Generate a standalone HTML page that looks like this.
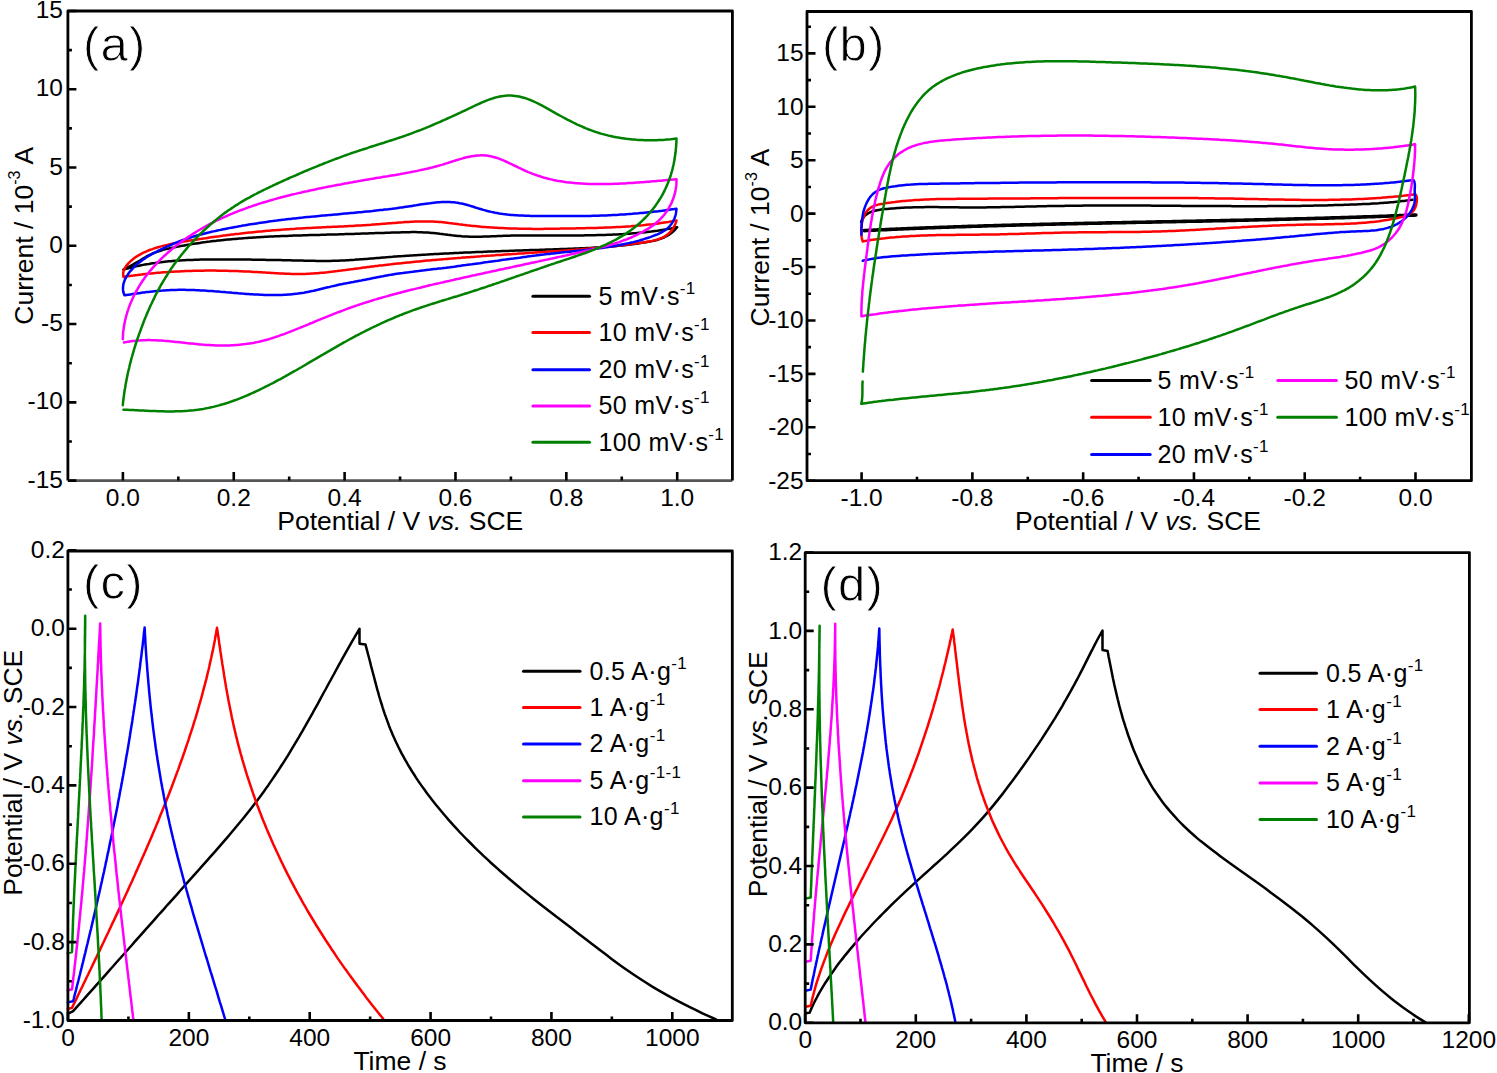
<!DOCTYPE html><html><head><meta charset="utf-8"><style>html,body{margin:0;padding:0;background:#fff;overflow:hidden}svg{display:block}text{font-family:"Liberation Sans",sans-serif}</style></head><body>
<svg width="1497" height="1073" viewBox="0 0 1497 1073" font-family='"Liberation Sans", sans-serif' font-size="24.5" fill="#000">
<path d="M123.4 269.6L125.1 268.6L126.8 267.7L128.5 266.9L130.2 266L131.9 265.1L133.7 264.2L135.4 263.2L137.2 262.1L139 261.1L140.8 260L142.6 258.9L144.4 257.8L146.2 256.7L148.1 255.7L149.9 254.8L151.8 253.9L153.7 253.1L155.5 252.4L157.4 251.7L159.3 251.1L161.2 250.5L163.1 249.9L165 249.4L166.9 248.9L168.9 248.5L170.8 248L172.7 247.6L174.6 247.2L176.6 246.8L178.5 246.5L180.4 246.1L182.4 245.7L184.3 245.4L186.2 245.1L188.2 244.7L190.1 244.4L192.1 244.1L194 243.8L196 243.5L197.9 243.2L199.9 242.9L201.8 242.6L203.8 242.3L205.8 242.1L207.7 241.8L209.7 241.6L211.7 241.3L213.6 241.1L215.6 240.9L217.6 240.6L219.5 240.4L221.5 240.2L223.5 240L225.5 239.8L227.4 239.6L229.4 239.4L231.4 239.2L233.4 239L235.4 238.9L237.3 238.7L239.3 238.5L241.3 238.4L243.3 238.2L245.3 238.1L247.3 237.9L249.3 237.8L251.3 237.7L253.3 237.5L255.2 237.4L257.2 237.3L259.2 237.2L261.2 237L263.2 236.9L265.2 236.8L267.2 236.7L269.2 236.6L271.2 236.5L273.2 236.4L275.2 236.3L277.2 236.3L279.3 236.2L281.3 236.1L283.3 236L285.3 235.9L287.3 235.9L289.3 235.8L291.3 235.7L293.3 235.6L295.3 235.6L297.3 235.5L299.3 235.4L301.3 235.4L303.4 235.3L305.4 235.3L307.4 235.2L309.4 235.1L311.4 235.1L313.4 235L315.4 235L317.4 234.9L319.4 234.9L321.5 234.8L323.5 234.8L325.5 234.7L327.5 234.6L329.5 234.6L331.5 234.5L333.5 234.5L335.5 234.4L337.6 234.4L339.6 234.3L341.6 234.3L343.6 234.2L345.6 234.1L347.6 234.1L349.6 234L351.6 234L353.6 233.9L355.7 233.8L357.7 233.8L359.7 233.7L361.7 233.6L363.7 233.6L365.7 233.5L367.7 233.4L369.7 233.3L371.7 233.3L373.7 233.2L375.7 233.1L377.7 233.1L379.7 233L381.7 232.9L383.8 232.9L385.8 232.8L387.8 232.7L389.8 232.7L391.8 232.6L393.8 232.5L395.8 232.5L397.8 232.4L399.8 232.4L401.8 232.3L403.8 232.3L405.8 232.2L407.8 232.2L409.8 232.2L411.8 232.1L413.8 232.1L415.8 232.1L417.8 232.2L419.8 232.2L421.8 232.3L423.8 232.4L425.8 232.5L427.8 232.6L429.8 232.7L431.8 232.9L433.8 233.1L435.8 233.3L437.8 233.5L439.8 233.8L441.8 234L443.8 234.3L445.8 234.5L447.8 234.8L449.8 235L451.8 235.3L453.8 235.5L455.8 235.7L457.8 235.9L459.8 236.1L461.8 236.3L463.8 236.4L465.8 236.5L467.7 236.6L469.7 236.7L471.7 236.7L473.7 236.8L475.7 236.8L477.7 236.7L479.7 236.7L481.7 236.7L483.7 236.6L485.7 236.6L487.7 236.5L489.7 236.4L491.7 236.3L493.7 236.2L495.7 236.2L497.7 236.1L499.7 236L501.7 235.9L503.7 235.8L505.6 235.8L507.6 235.7L509.6 235.7L511.6 235.6L513.6 235.6L515.6 235.5L517.6 235.5L519.6 235.5L521.6 235.5L523.6 235.4L525.6 235.4L527.6 235.4L529.6 235.4L531.6 235.4L533.6 235.4L535.5 235.4L537.5 235.4L539.5 235.4L541.5 235.4L543.5 235.4L545.5 235.4L547.5 235.4L549.5 235.4L551.5 235.4L553.5 235.4L555.5 235.4L557.5 235.4L559.5 235.4L561.5 235.4L563.4 235.4L565.4 235.4L567.4 235.4L569.4 235.4L571.4 235.4L573.4 235.4L575.4 235.4L577.4 235.4L579.4 235.4L581.4 235.4L583.4 235.4L585.4 235.3L587.4 235.3L589.4 235.3L591.4 235.3L593.3 235.2L595.3 235.2L597.3 235.1L599.3 235.1L601.3 235L603.3 235L605.3 234.9L607.3 234.8L609.3 234.8L611.3 234.7L613.3 234.6L615.3 234.5L617.3 234.4L619.3 234.3L621.3 234.2L623.3 234.1L625.3 233.9L627.3 233.8L629.2 233.7L631.2 233.5L633.2 233.3L635.2 233.2L637.2 233L639.2 232.8L641.2 232.6L643.2 232.4L645.2 232.2L647.2 232L649.2 231.7L651.2 231.5L653.2 231.2L655.2 230.9L657.2 230.7L659.2 230.4L661.2 230.1L663.2 229.8L665.2 229.4L667.2 229.1L669.2 228.7L671.2 228.4L673.2 228L675.2 227.6L677.2 227.2L675.8 228.8L674.4 230.3L673 231.7L671.4 233L669.9 234.1L668.2 235.2L666.6 236.1L664.8 237L663.1 237.8L661.3 238.5L659.5 239.1L657.6 239.7L655.8 240.2L653.9 240.7L652 241.1L650 241.5L648.1 241.8L646.2 242.2L644.2 242.5L642.2 242.8L640.3 243.1L638.3 243.4L636.4 243.7L634.4 244L632.4 244.2L630.5 244.5L628.5 244.7L626.5 244.9L624.5 245.2L622.5 245.4L620.5 245.6L618.6 245.8L616.6 246L614.6 246.2L612.6 246.3L610.6 246.5L608.6 246.7L606.6 246.8L604.6 247L602.6 247.1L600.6 247.3L598.6 247.4L596.5 247.5L594.5 247.6L592.5 247.7L590.5 247.9L588.5 248L586.5 248.1L584.5 248.2L582.5 248.3L580.4 248.3L578.4 248.4L576.4 248.5L574.4 248.6L572.4 248.7L570.4 248.8L568.3 248.8L566.3 248.9L564.3 249L562.3 249L560.3 249.1L558.3 249.2L556.3 249.3L554.2 249.3L552.2 249.4L550.2 249.5L548.2 249.5L546.2 249.6L544.2 249.7L542.2 249.7L540.2 249.8L538.2 249.9L536.2 249.9L534.1 250L532.1 250.1L530.1 250.1L528.1 250.2L526.1 250.3L524.1 250.3L522.1 250.4L520.1 250.5L518.1 250.5L516.1 250.6L514.1 250.7L512.1 250.8L510.1 250.8L508.1 250.9L506.1 251L504.1 251L502.1 251.1L500.1 251.2L498.1 251.3L496.1 251.3L494.1 251.4L492.1 251.5L490.1 251.6L488.1 251.6L486.2 251.7L484.2 251.8L482.2 251.9L480.2 252L478.2 252L476.2 252.1L474.2 252.2L472.2 252.3L470.2 252.4L468.2 252.5L466.2 252.5L464.2 252.6L462.2 252.7L460.2 252.8L458.3 252.9L456.3 253L454.3 253.1L452.3 253.2L450.3 253.3L448.3 253.4L446.3 253.5L444.3 253.6L442.3 253.7L440.3 253.8L438.3 253.9L436.4 254L434.4 254.1L432.4 254.2L430.4 254.3L428.4 254.4L426.4 254.6L424.4 254.7L422.4 254.8L420.4 254.9L418.4 255L416.4 255.2L414.5 255.3L412.5 255.4L410.5 255.5L408.5 255.7L406.5 255.8L404.5 255.9L402.5 256.1L400.5 256.2L398.5 256.3L396.5 256.5L394.5 256.6L392.5 256.8L390.5 256.9L388.5 257.1L386.5 257.2L384.5 257.4L382.6 257.5L380.6 257.7L378.6 257.9L376.6 258L374.6 258.2L372.6 258.4L370.6 258.5L368.6 258.7L366.6 258.9L364.6 259L362.6 259.2L360.6 259.3L358.6 259.5L356.6 259.6L354.6 259.8L352.6 259.9L350.6 260L348.6 260.2L346.6 260.3L344.6 260.4L342.6 260.5L340.6 260.6L338.6 260.7L336.6 260.7L334.6 260.8L332.6 260.8L330.6 260.9L328.5 260.9L326.5 260.9L324.5 260.9L322.5 260.9L320.5 260.9L318.5 260.9L316.5 260.9L314.5 260.8L312.5 260.8L310.5 260.8L308.5 260.7L306.5 260.7L304.5 260.7L302.5 260.6L300.5 260.6L298.5 260.5L296.5 260.5L294.5 260.4L292.5 260.4L290.5 260.3L288.5 260.3L286.5 260.2L284.5 260.2L282.5 260.2L280.5 260.1L278.5 260.1L276.5 260L274.4 260L272.4 260L270.4 259.9L268.4 259.9L266.4 259.9L264.4 259.8L262.4 259.8L260.4 259.8L258.4 259.7L256.4 259.7L254.4 259.7L252.4 259.7L250.4 259.6L248.4 259.6L246.4 259.6L244.4 259.6L242.4 259.6L240.4 259.5L238.4 259.5L236.4 259.5L234.4 259.5L232.4 259.5L230.4 259.5L228.4 259.5L226.4 259.5L224.4 259.5L222.5 259.5L220.5 259.5L218.5 259.5L216.5 259.5L214.5 259.5L212.5 259.5L210.5 259.5L208.5 259.5L206.5 259.5L204.5 259.6L202.5 259.6L200.5 259.6L198.5 259.7L196.5 259.7L194.6 259.8L192.6 259.9L190.6 259.9L188.6 260L186.6 260.1L184.6 260.2L182.6 260.3L180.7 260.4L178.7 260.5L176.7 260.7L174.7 260.8L172.7 261L170.7 261.2L168.8 261.3L166.8 261.5L164.8 261.7L162.8 261.9L160.8 262.2L158.9 262.4L156.9 262.7L154.9 263L152.9 263.2L151 263.5L149 263.9L147 264.2L145 264.5L143.1 264.9L141.1 265.3L139.1 265.7L137.2 266.1L135.2 266.6L133.2 267L131.3 267.5L129.3 268L127.3 268.5L125.4 269L123.4 269.6" fill="none" stroke="#000000" stroke-width="2.5" stroke-linejoin="round" stroke-linecap="round"/>
<path d="M123.4 276.9L123.2 274.9L123.2 273L123.6 271.1L124.2 269.4L125.1 267.7L126.1 266.1L127.3 264.6L128.6 263.1L129.9 261.8L131.4 260.4L132.9 259.2L134.4 258L136 256.9L137.7 255.8L139.4 254.8L141.2 253.8L142.9 252.9L144.8 252.1L146.6 251.3L148.5 250.5L150.4 249.7L152.3 249.1L154.3 248.4L156.2 247.8L158.2 247.2L160.2 246.6L162.1 246.1L164.1 245.6L166.1 245.1L168 244.7L170 244.2L172 243.8L173.9 243.4L175.9 243L177.9 242.6L179.8 242.3L181.8 241.9L183.8 241.6L185.8 241.3L187.7 240.9L189.7 240.6L191.7 240.3L193.7 240L195.6 239.7L197.6 239.4L199.6 239.1L201.6 238.8L203.6 238.4L205.5 238.2L207.5 237.9L209.5 237.6L211.5 237.3L213.5 237L215.4 236.7L217.4 236.4L219.4 236.2L221.4 235.9L223.4 235.6L225.4 235.4L227.4 235.1L229.3 234.9L231.3 234.6L233.3 234.4L235.3 234.1L237.3 233.9L239.3 233.7L241.3 233.4L243.3 233.2L245.2 233L247.2 232.8L249.2 232.6L251.2 232.4L253.2 232.2L255.2 232L257.2 231.8L259.2 231.6L261.2 231.4L263.2 231.2L265.2 231L267.1 230.8L269.1 230.7L271.1 230.5L273.1 230.3L275.1 230.2L277.1 230L279.1 229.9L281.1 229.7L283.1 229.6L285.1 229.4L287.1 229.3L289.1 229.2L291.1 229L293.1 228.9L295.1 228.8L297.1 228.6L299.1 228.5L301.1 228.4L303.1 228.3L305 228.2L307 228.1L309 228L311 227.9L313 227.8L315 227.7L317 227.6L319 227.5L321 227.4L323 227.3L325 227.2L327 227.1L329 227L331 226.9L333 226.8L335 226.7L337 226.7L339 226.6L341 226.5L343 226.4L345 226.3L347 226.2L349 226.1L351 226L353 225.9L355 225.7L357 225.6L359 225.5L361 225.4L363 225.3L365 225.2L367 225L369 224.9L371 224.8L372.9 224.6L374.9 224.5L376.9 224.3L378.9 224.2L380.9 224L382.9 223.8L384.9 223.7L386.9 223.5L388.9 223.3L390.9 223.2L392.9 223L394.9 222.9L396.9 222.7L398.9 222.5L400.9 222.4L402.9 222.3L404.9 222.1L406.9 222L408.9 221.9L410.9 221.8L412.9 221.7L414.9 221.6L416.9 221.5L418.9 221.5L420.9 221.4L422.9 221.4L424.9 221.4L426.9 221.4L428.9 221.5L430.9 221.5L432.9 221.6L434.9 221.7L436.9 221.8L438.9 222L440.9 222.1L442.9 222.3L444.9 222.5L446.9 222.7L448.9 223L450.9 223.2L452.9 223.5L454.9 223.7L456.9 224L458.9 224.3L460.9 224.5L462.9 224.8L464.9 225L466.9 225.3L468.9 225.5L470.9 225.7L472.9 225.9L474.9 226.1L476.9 226.3L478.9 226.5L480.9 226.7L482.9 226.9L484.9 227L486.9 227.2L488.9 227.3L490.9 227.5L492.9 227.6L494.9 227.7L496.9 227.8L498.9 227.9L500.9 228.1L502.9 228.1L504.9 228.2L506.9 228.3L508.9 228.4L510.9 228.5L512.9 228.5L514.9 228.6L516.9 228.6L518.9 228.7L520.9 228.7L522.9 228.8L524.9 228.8L526.9 228.8L528.9 228.8L530.8 228.8L532.8 228.9L534.8 228.9L536.8 228.9L538.8 228.9L540.8 228.9L542.8 228.9L544.8 228.8L546.8 228.8L548.8 228.8L550.8 228.8L552.8 228.8L554.8 228.7L556.8 228.7L558.8 228.7L560.8 228.6L562.8 228.6L564.8 228.6L566.8 228.5L568.8 228.5L570.8 228.5L572.8 228.4L574.8 228.4L576.8 228.3L578.8 228.3L580.8 228.2L582.8 228.2L584.8 228.2L586.8 228.1L588.8 228.1L590.8 228L592.8 228L594.8 227.9L596.8 227.9L598.7 227.8L600.7 227.7L602.7 227.7L604.7 227.6L606.7 227.5L608.7 227.5L610.7 227.4L612.7 227.3L614.7 227.2L616.7 227.1L618.7 227L620.7 226.9L622.7 226.8L624.7 226.7L626.7 226.5L628.7 226.4L630.7 226.3L632.7 226.1L634.7 226L636.6 225.8L638.6 225.6L640.6 225.4L642.6 225.3L644.6 225.1L646.6 224.8L648.6 224.6L650.6 224.4L652.6 224.2L654.6 223.9L656.6 223.7L658.6 223.4L660.6 223.1L662.6 222.8L664.6 222.5L666.5 222.2L668.5 221.9L670.5 221.5L672.5 221.2L674.5 220.8L676.5 220.4L675.9 222.6L675.1 224.6L674.3 226.4L673.3 228.2L672.2 229.7L671.1 231.2L669.8 232.5L668.5 233.7L667 234.9L665.5 235.9L663.9 236.8L662.3 237.6L660.6 238.3L658.8 239L657 239.6L655.1 240.1L653.2 240.6L651.3 241.1L649.3 241.5L647.3 241.8L645.3 242.1L643.3 242.4L641.3 242.7L639.3 243L637.3 243.3L635.2 243.6L633.2 243.8L631.2 244.1L629.2 244.4L627.2 244.6L625.1 244.9L623.1 245.1L621.1 245.3L619.1 245.6L617.1 245.8L615 246L613 246.2L611 246.5L609 246.7L607 246.9L605 247.1L603 247.3L601 247.5L598.9 247.7L596.9 247.9L594.9 248.1L592.9 248.2L590.9 248.4L588.9 248.6L586.9 248.8L584.9 248.9L582.9 249.1L580.9 249.3L578.9 249.4L576.9 249.6L574.9 249.8L572.9 249.9L570.8 250.1L568.8 250.2L566.8 250.4L564.8 250.5L562.8 250.7L560.8 250.8L558.8 250.9L556.8 251.1L554.8 251.2L552.8 251.4L550.8 251.5L548.8 251.6L546.8 251.8L544.8 251.9L542.8 252.1L540.8 252.2L538.8 252.3L536.8 252.5L534.8 252.6L532.8 252.7L530.8 252.8L528.8 253L526.8 253.1L524.8 253.2L522.9 253.4L520.9 253.5L518.9 253.6L516.9 253.8L514.9 253.9L512.9 254L510.9 254.2L508.9 254.3L506.9 254.5L504.9 254.6L502.9 254.7L500.9 254.9L498.9 255L496.9 255.1L494.9 255.3L492.9 255.4L490.9 255.6L488.9 255.7L486.9 255.8L484.9 256L482.9 256.1L480.9 256.3L478.9 256.4L476.9 256.6L475 256.7L473 256.9L471 257L469 257.2L467 257.3L465 257.5L463 257.6L461 257.8L459 257.9L457 258.1L455 258.2L453 258.4L451 258.6L449 258.7L447 258.9L445 259.1L443 259.2L441.1 259.4L439.1 259.6L437.1 259.7L435.1 259.9L433.1 260.1L431.1 260.3L429.1 260.5L427.1 260.6L425.1 260.8L423.1 261L421.1 261.2L419.1 261.4L417.1 261.6L415.1 261.8L413.1 262L411.1 262.2L409.2 262.4L407.2 262.6L405.2 262.8L403.2 263L401.2 263.2L399.2 263.4L397.2 263.6L395.2 263.8L393.2 264L391.2 264.3L389.2 264.5L387.2 264.7L385.2 264.9L383.2 265.2L381.2 265.4L379.2 265.6L377.2 265.9L375.3 266.1L373.3 266.4L371.3 266.6L369.3 266.9L367.3 267.1L365.3 267.4L363.3 267.6L361.3 267.9L359.3 268.2L357.3 268.4L355.3 268.7L353.3 269L351.3 269.2L349.3 269.5L347.3 269.8L345.3 270.1L343.3 270.3L341.3 270.6L339.3 270.8L337.3 271.1L335.3 271.3L333.3 271.6L331.3 271.8L329.3 272L327.3 272.3L325.3 272.5L323.3 272.7L321.3 272.8L319.3 273L317.3 273.2L315.4 273.3L313.4 273.5L311.4 273.6L309.4 273.7L307.4 273.8L305.4 273.9L303.4 273.9L301.4 273.9L299.4 274L297.4 274L295.4 274L293.4 273.9L291.4 273.9L289.4 273.8L287.4 273.8L285.4 273.7L283.4 273.6L281.4 273.5L279.4 273.4L277.4 273.3L275.4 273.2L273.4 273.1L271.4 273L269.4 272.8L267.4 272.7L265.4 272.6L263.4 272.5L261.4 272.3L259.4 272.2L257.4 272.1L255.4 272L253.4 271.9L251.4 271.7L249.4 271.6L247.4 271.5L245.4 271.5L243.4 271.4L241.4 271.3L239.4 271.2L237.4 271.1L235.4 271.1L233.4 271L231.4 270.9L229.4 270.9L227.4 270.8L225.4 270.8L223.4 270.7L221.4 270.7L219.4 270.7L217.4 270.7L215.4 270.6L213.4 270.6L211.4 270.6L209.4 270.6L207.4 270.6L205.4 270.6L203.4 270.7L201.4 270.7L199.4 270.7L197.4 270.7L195.4 270.8L193.4 270.8L191.4 270.9L189.4 271L187.4 271L185.4 271.1L183.4 271.2L181.4 271.3L179.4 271.4L177.4 271.5L175.4 271.6L173.4 271.7L171.4 271.8L169.4 271.9L167.4 272.1L165.4 272.2L163.4 272.3L161.4 272.5L159.4 272.7L157.4 272.8L155.4 273L153.4 273.2L151.4 273.4L149.4 273.6L147.4 273.8L145.4 274L143.4 274.2L141.4 274.5L139.4 274.7L137.4 275L135.4 275.2L133.4 275.5L131.4 275.7L129.4 276L127.4 276.3L125.4 276.6L123.4 276.9" fill="none" stroke="#ff0000" stroke-width="2.5" stroke-linejoin="round" stroke-linecap="round"/>
<path d="M124.5 295.3L123.7 293.3L123.2 291.4L123 289.4L123 287.5L123.2 285.6L123.5 283.7L124.1 281.9L124.7 280.1L125.6 278.3L126.5 276.6L127.6 274.9L128.7 273.2L129.9 271.6L131.3 270.1L132.6 268.6L134 267.2L135.5 265.8L136.9 264.4L138.5 263.1L140 261.9L141.6 260.7L143.3 259.5L144.9 258.4L146.6 257.3L148.3 256.2L150.1 255.2L151.8 254.2L153.6 253.2L155.4 252.3L157.2 251.4L159 250.4L160.8 249.5L162.6 248.7L164.4 247.8L166.2 246.9L168.1 246.1L169.9 245.3L171.8 244.5L173.6 243.7L175.5 242.9L177.3 242.2L179.2 241.4L181 240.7L182.9 240L184.8 239.4L186.7 238.7L188.6 238.1L190.5 237.5L192.4 236.9L194.3 236.3L196.2 235.7L198.1 235.2L200 234.7L201.9 234.2L203.8 233.7L205.8 233.2L207.7 232.7L209.6 232.3L211.6 231.8L213.5 231.4L215.4 231L217.4 230.5L219.3 230.1L221.3 229.7L223.2 229.3L225.2 228.9L227.2 228.5L229.1 228.1L231.1 227.8L233.1 227.4L235 227L237 226.7L239 226.3L240.9 226L242.9 225.6L244.9 225.3L246.9 224.9L248.9 224.6L250.9 224.3L252.8 224L254.8 223.7L256.8 223.4L258.8 223.1L260.8 222.8L262.8 222.5L264.8 222.2L266.8 221.9L268.8 221.6L270.8 221.3L272.8 221.1L274.8 220.8L276.8 220.6L278.8 220.3L280.8 220L282.8 219.8L284.8 219.6L286.8 219.3L288.8 219.1L290.8 218.9L292.8 218.6L294.8 218.4L296.8 218.2L298.8 218L300.8 217.8L302.8 217.6L304.8 217.3L306.8 217.1L308.8 216.9L310.8 216.7L312.8 216.6L314.8 216.4L316.8 216.2L318.8 216L320.7 215.8L322.7 215.6L324.7 215.4L326.7 215.2L328.7 215.1L330.7 214.9L332.7 214.7L334.7 214.5L336.7 214.4L338.7 214.2L340.7 214L342.7 213.8L344.6 213.6L346.6 213.5L348.6 213.3L350.6 213.1L352.6 212.9L354.6 212.7L356.6 212.5L358.6 212.3L360.5 212.2L362.5 212L364.5 211.8L366.5 211.6L368.5 211.4L370.5 211.2L372.5 211L374.4 210.7L376.4 210.5L378.4 210.3L380.4 210.1L382.4 209.9L384.4 209.6L386.3 209.4L388.3 209.2L390.3 208.9L392.3 208.7L394.3 208.4L396.3 208.2L398.2 207.9L400.2 207.6L402.2 207.4L404.2 207.1L406.2 206.8L408.1 206.5L410.1 206.2L412.1 205.9L414.1 205.6L416.1 205.3L418 204.9L420 204.6L422 204.3L424 204L426 203.7L427.9 203.4L429.9 203.2L431.9 202.9L433.9 202.7L435.9 202.5L437.8 202.3L439.8 202.2L441.8 202.1L443.8 202L445.7 202L447.7 202L449.7 202.1L451.7 202.2L453.7 202.3L455.6 202.6L457.6 202.8L459.6 203.2L461.6 203.5L463.6 204L465.5 204.5L467.5 205L469.5 205.6L471.5 206.2L473.4 206.8L475.4 207.5L477.4 208.1L479.4 208.7L481.4 209.3L483.3 209.9L485.3 210.4L487.3 211L489.3 211.4L491.3 211.9L493.2 212.3L495.2 212.7L497.2 213L499.2 213.4L501.2 213.7L503.1 214L505.1 214.2L507.1 214.5L509.1 214.7L511.1 214.9L513 215L515 215.2L517 215.3L519 215.4L521 215.6L522.9 215.6L524.9 215.7L526.9 215.8L528.9 215.8L530.9 215.9L532.8 215.9L534.8 216L536.8 216L538.8 216L540.8 216L542.8 216L544.7 216L546.7 216L548.7 216L550.7 216L552.7 216L554.7 216L556.6 216L558.6 216L560.6 216.1L562.6 216.1L564.6 216.1L566.6 216.1L568.6 216.1L570.6 216.1L572.5 216.1L574.5 216.1L576.5 216.1L578.5 216.1L580.5 216L582.5 216L584.5 216L586.5 216L588.5 215.9L590.4 215.9L592.4 215.8L594.4 215.8L596.4 215.7L598.4 215.7L600.4 215.6L602.4 215.5L604.4 215.5L606.4 215.4L608.4 215.3L610.4 215.2L612.4 215.1L614.4 215L616.4 214.9L618.4 214.8L620.4 214.6L622.4 214.5L624.4 214.4L626.4 214.2L628.4 214.1L630.4 213.9L632.4 213.8L634.4 213.6L636.4 213.4L638.4 213.3L640.4 213.1L642.4 212.9L644.4 212.7L646.4 212.5L648.4 212.3L650.4 212.1L652.4 211.9L654.4 211.6L656.4 211.4L658.4 211.2L660.4 210.9L662.4 210.7L664.4 210.4L666.4 210.1L668.5 209.9L670.5 209.6L672.5 209.3L674.5 209L676.5 208.7L676.3 210.8L676 212.9L675.6 215L675 217L674.2 219L673.3 220.8L672.3 222.6L671.2 224.2L670 225.8L668.7 227.1L667.3 228.4L665.9 229.6L664.3 230.7L662.7 231.7L661 232.6L659.3 233.5L657.5 234.3L655.7 235L653.9 235.7L652.1 236.4L650.2 237.1L648.4 237.7L646.5 238.3L644.6 238.9L642.7 239.5L640.9 240L639 240.6L637.1 241.1L635.2 241.6L633.2 242.1L631.3 242.5L629.4 243L627.5 243.4L625.5 243.8L623.6 244.2L621.6 244.6L619.7 245L617.7 245.4L615.7 245.7L613.8 246.1L611.8 246.4L609.8 246.7L607.8 247L605.8 247.3L603.9 247.6L601.9 247.9L599.9 248.2L597.9 248.4L595.9 248.7L593.9 249L591.9 249.2L589.8 249.4L587.8 249.7L585.8 249.9L583.8 250.1L581.8 250.4L579.8 250.6L577.8 250.8L575.7 251L573.7 251.2L571.7 251.4L569.7 251.7L567.7 251.9L565.6 252.1L563.6 252.3L561.6 252.5L559.6 252.7L557.6 253L555.5 253.2L553.5 253.4L551.5 253.6L549.5 253.9L547.5 254.1L545.5 254.3L543.5 254.6L541.5 254.8L539.5 255.1L537.5 255.3L535.4 255.6L533.4 255.8L531.4 256.1L529.4 256.3L527.4 256.6L525.4 256.9L523.4 257.1L521.4 257.4L519.4 257.7L517.5 257.9L515.5 258.2L513.5 258.5L511.5 258.7L509.5 259L507.5 259.3L505.5 259.6L503.5 259.8L501.5 260.1L499.5 260.4L497.5 260.7L495.6 260.9L493.6 261.2L491.6 261.5L489.6 261.8L487.6 262.1L485.6 262.3L483.7 262.6L481.7 262.9L479.7 263.2L477.7 263.4L475.7 263.7L473.7 264L471.8 264.3L469.8 264.5L467.8 264.8L465.8 265.1L463.9 265.3L461.9 265.6L459.9 265.9L457.9 266.1L456 266.4L454 266.7L452 266.9L450 267.2L448.1 267.4L446.1 267.7L444.1 267.9L442.1 268.2L440.2 268.4L438.2 268.6L436.2 268.9L434.3 269.1L432.3 269.3L430.3 269.6L428.3 269.8L426.4 270L424.4 270.3L422.4 270.5L420.5 270.7L418.5 271L416.5 271.2L414.6 271.4L412.6 271.7L410.6 271.9L408.6 272.2L406.7 272.4L404.7 272.7L402.7 273L400.8 273.2L398.8 273.5L396.8 273.8L394.9 274.1L392.9 274.4L390.9 274.8L388.9 275.1L387 275.4L385 275.8L383 276.2L381.1 276.5L379.1 276.9L377.1 277.3L375.2 277.7L373.2 278.1L371.2 278.5L369.2 278.9L367.3 279.3L365.3 279.7L363.3 280.1L361.3 280.5L359.4 280.8L357.4 281.2L355.4 281.6L353.4 282L351.5 282.3L349.5 282.7L347.5 283.1L345.5 283.4L343.6 283.8L341.6 284.2L339.6 284.6L337.6 285L335.7 285.5L333.7 285.9L331.7 286.4L329.7 286.9L327.7 287.3L325.8 287.8L323.8 288.3L321.8 288.8L319.8 289.3L317.8 289.8L315.8 290.2L313.9 290.7L311.9 291.1L309.9 291.5L307.9 291.9L305.9 292.3L303.9 292.7L302 293L300 293.3L298 293.6L296 293.8L294 294L292 294.2L290.1 294.4L288.1 294.5L286.1 294.7L284.1 294.8L282.1 294.9L280.1 294.9L278.1 295L276.1 295L274.2 295L272.2 295L270.2 295L268.2 295L266.2 294.9L264.2 294.9L262.2 294.8L260.2 294.7L258.2 294.6L256.3 294.5L254.3 294.4L252.3 294.3L250.3 294.2L248.3 294L246.3 293.9L244.3 293.7L242.3 293.6L240.3 293.4L238.3 293.3L236.3 293.1L234.3 292.9L232.4 292.8L230.4 292.6L228.4 292.4L226.4 292.3L224.4 292.1L222.4 291.9L220.4 291.8L218.4 291.6L216.4 291.4L214.4 291.3L212.4 291.1L210.4 291L208.4 290.9L206.4 290.7L204.4 290.6L202.4 290.5L200.4 290.4L198.4 290.3L196.4 290.2L194.4 290.1L192.5 290L190.5 289.9L188.5 289.9L186.5 289.9L184.5 289.8L182.5 289.8L180.5 289.8L178.5 289.8L176.5 289.9L174.5 289.9L172.5 290L170.5 290.1L168.5 290.2L166.5 290.3L164.5 290.4L162.5 290.6L160.5 290.7L158.5 290.9L156.5 291.1L154.5 291.3L152.5 291.5L150.5 291.7L148.5 291.9L146.5 292.1L144.5 292.4L142.5 292.6L140.5 292.9L138.5 293.2L136.5 293.5L134.5 293.8L132.5 294.1L130.5 294.4L128.5 294.7L126.5 295L124.5 295.3" fill="none" stroke="#0000ff" stroke-width="2.5" stroke-linejoin="round" stroke-linecap="round"/>
<path d="M122.8 339.2L122.9 337.1L123 335.1L123.1 333.1L123.3 331.1L123.6 329L123.9 327L124.2 325.1L124.6 323.1L125 321.1L125.4 319.2L125.9 317.2L126.4 315.3L127 313.4L127.5 311.5L128.2 309.6L128.8 307.7L129.5 305.9L130.2 304L131 302.2L131.8 300.4L132.6 298.6L133.4 296.8L134.3 295L135.2 293.3L136.1 291.5L137.1 289.8L138.1 288L139.1 286.3L140.1 284.7L141.2 283L142.3 281.3L143.4 279.7L144.6 278L145.7 276.4L146.9 274.8L148.2 273.2L149.4 271.7L150.7 270.1L152 268.6L153.3 267.1L154.7 265.6L156.1 264.1L157.4 262.6L158.9 261.2L160.3 259.7L161.7 258.3L163.2 256.9L164.7 255.5L166.2 254.2L167.7 252.8L169.2 251.5L170.7 250.2L172.3 248.9L173.8 247.6L175.4 246.3L177 245.1L178.6 243.9L180.2 242.7L181.8 241.5L183.4 240.3L185 239.2L186.7 238L188.3 236.9L190 235.8L191.6 234.7L193.3 233.6L195 232.6L196.7 231.5L198.4 230.5L200.1 229.5L201.8 228.5L203.5 227.5L205.2 226.5L207 225.6L208.7 224.6L210.5 223.7L212.3 222.8L214 221.9L215.8 221L217.6 220.1L219.4 219.3L221.2 218.4L223 217.6L224.8 216.8L226.6 216L228.5 215.2L230.3 214.4L232.1 213.7L234 212.9L235.8 212.1L237.7 211.4L239.5 210.7L241.4 210L243.3 209.3L245.2 208.6L247 207.9L248.9 207.2L250.8 206.6L252.7 205.9L254.6 205.3L256.5 204.7L258.4 204L260.3 203.4L262.3 202.8L264.2 202.2L266.1 201.7L268 201.1L270 200.5L271.9 200L273.8 199.4L275.8 198.9L277.7 198.3L279.7 197.8L281.6 197.3L283.6 196.8L285.5 196.3L287.5 195.8L289.5 195.3L291.4 194.8L293.4 194.3L295.3 193.9L297.3 193.4L299.3 192.9L301.3 192.5L303.2 192L305.2 191.6L307.2 191.2L309.1 190.7L311.1 190.3L313.1 189.9L315.1 189.5L317 189L319 188.6L321 188.2L323 187.8L324.9 187.4L326.9 187L328.9 186.6L330.9 186.3L332.8 185.9L334.8 185.5L336.8 185.1L338.8 184.7L340.7 184.4L342.7 184L344.7 183.6L346.6 183.3L348.6 182.9L350.6 182.5L352.5 182.2L354.5 181.8L356.5 181.5L358.4 181.1L360.4 180.8L362.4 180.4L364.3 180.1L366.3 179.8L368.3 179.4L370.2 179.1L372.2 178.8L374.2 178.4L376.1 178.1L378.1 177.8L380.1 177.5L382 177.1L384 176.8L385.9 176.5L387.9 176.2L389.9 175.8L391.8 175.5L393.8 175.2L395.7 174.9L397.7 174.5L399.6 174.2L401.6 173.8L403.6 173.5L405.5 173.1L407.5 172.8L409.4 172.4L411.4 172L413.3 171.6L415.3 171.3L417.2 170.9L419.2 170.4L421.1 170L423.1 169.6L425 169.1L427 168.7L428.9 168.2L430.9 167.7L432.8 167.3L434.8 166.7L436.7 166.2L438.6 165.7L440.6 165.1L442.5 164.6L444.5 164L446.4 163.4L448.3 162.8L450.3 162.1L452.2 161.5L454.2 160.9L456.1 160.3L458 159.7L460 159.1L461.9 158.6L463.8 158L465.7 157.5L467.7 157.1L469.6 156.7L471.5 156.3L473.4 156L475.4 155.7L477.3 155.5L479.2 155.4L481.1 155.3L483 155.3L484.9 155.4L486.9 155.6L488.8 155.9L490.7 156.3L492.6 156.7L494.5 157.2L496.4 157.8L498.3 158.4L500.2 159.1L502.1 159.9L504 160.7L505.8 161.5L507.7 162.4L509.6 163.3L511.5 164.2L513.4 165.1L515.3 166L517.2 166.9L519 167.9L520.9 168.7L522.8 169.6L524.7 170.5L526.6 171.3L528.4 172.1L530.3 172.8L532.2 173.6L534.1 174.3L536 175L537.9 175.7L539.8 176.3L541.6 176.9L543.5 177.5L545.4 178L547.3 178.5L549.2 179L551.1 179.4L553 179.9L555 180.3L556.9 180.7L558.8 181L560.7 181.3L562.6 181.6L564.6 181.9L566.5 182.2L568.4 182.4L570.4 182.6L572.3 182.8L574.3 183L576.2 183.2L578.2 183.3L580.2 183.5L582.2 183.6L584.1 183.7L586.1 183.8L588.1 183.9L590.1 183.9L592.1 184L594.1 184L596.1 184.1L598.2 184.1L600.2 184.1L602.2 184.1L604.2 184L606.2 184L608.3 184L610.3 183.9L612.3 183.9L614.4 183.8L616.4 183.7L618.4 183.7L620.5 183.6L622.5 183.5L624.5 183.4L626.6 183.3L628.6 183.1L630.6 183L632.7 182.9L634.7 182.7L636.7 182.6L638.8 182.5L640.8 182.3L642.8 182.2L644.8 182L646.8 181.8L648.9 181.7L650.9 181.5L652.9 181.3L654.9 181.2L656.9 181L658.9 180.8L660.8 180.7L662.8 180.5L664.8 180.3L666.8 180.1L668.7 180L670.7 179.8L672.6 179.6L674.6 179.5L676.5 179.3L676.5 181.3L676.4 183.4L676.3 185.4L676 187.4L675.7 189.4L675.3 191.4L674.9 193.4L674.3 195.3L673.7 197.2L673.1 199.1L672.3 201L671.5 202.9L670.7 204.7L669.7 206.4L668.7 208.2L667.7 209.9L666.6 211.5L665.5 213.1L664.3 214.7L663 216.2L661.7 217.6L660.4 219L659 220.4L657.5 221.7L656.1 223L654.6 224.2L653 225.4L651.4 226.5L649.8 227.6L648.2 228.7L646.5 229.7L644.8 230.7L643.1 231.7L641.3 232.6L639.5 233.5L637.8 234.4L635.9 235.3L634.1 236.1L632.3 237L630.4 237.8L628.5 238.5L626.7 239.3L624.8 240L622.9 240.7L621 241.4L619.1 242.1L617.2 242.7L615.3 243.3L613.4 243.9L611.5 244.5L609.6 245L607.7 245.6L605.8 246.1L603.9 246.6L601.9 247.1L600 247.6L598.1 248.1L596.2 248.6L594.2 249L592.3 249.5L590.4 249.9L588.5 250.4L586.5 250.8L584.6 251.3L582.7 251.7L580.7 252.1L578.8 252.6L576.8 253L574.9 253.5L572.9 253.9L571 254.3L569.1 254.8L567.1 255.2L565.2 255.6L563.2 256L561.2 256.5L559.3 256.9L557.3 257.3L555.4 257.8L553.4 258.2L551.5 258.6L549.5 259L547.5 259.5L545.6 259.9L543.6 260.3L541.7 260.7L539.7 261.1L537.7 261.6L535.8 262L533.8 262.4L531.8 262.8L529.9 263.3L527.9 263.7L525.9 264.1L524 264.5L522 265L520 265.4L518 265.8L516.1 266.2L514.1 266.6L512.1 267.1L510.2 267.5L508.2 267.9L506.2 268.3L504.2 268.8L502.3 269.2L500.3 269.6L498.3 270L496.4 270.5L494.4 270.9L492.4 271.3L490.4 271.7L488.5 272.2L486.5 272.6L484.5 273L482.6 273.5L480.6 273.9L478.6 274.3L476.7 274.7L474.7 275.2L472.7 275.6L470.8 276L468.8 276.5L466.8 276.9L464.9 277.3L462.9 277.8L460.9 278.2L459 278.7L457 279.1L455.1 279.5L453.1 280L451.1 280.4L449.2 280.9L447.2 281.3L445.3 281.7L443.3 282.2L441.4 282.6L439.4 283.1L437.5 283.5L435.5 284L433.6 284.4L431.6 284.9L429.7 285.3L427.8 285.8L425.8 286.3L423.9 286.7L422 287.2L420 287.7L418.1 288.1L416.2 288.6L414.2 289.1L412.3 289.5L410.4 290L408.4 290.5L406.5 291L404.6 291.5L402.7 292L400.8 292.5L398.8 293L396.9 293.5L395 294L393.1 294.5L391.2 295L389.3 295.5L387.4 296.1L385.5 296.6L383.5 297.1L381.6 297.7L379.7 298.2L377.8 298.8L375.9 299.4L374 299.9L372.2 300.5L370.3 301.1L368.4 301.7L366.5 302.3L364.6 302.9L362.7 303.5L360.8 304.1L358.9 304.7L357 305.4L355.2 306L353.3 306.7L351.4 307.3L349.5 308L347.7 308.7L345.8 309.4L343.9 310.1L342 310.8L340.2 311.5L338.3 312.2L336.4 312.9L334.6 313.6L332.7 314.4L330.9 315.1L329 315.9L327.1 316.6L325.3 317.4L323.4 318.1L321.5 318.9L319.7 319.7L317.8 320.4L315.9 321.2L314.1 322L312.2 322.8L310.3 323.5L308.5 324.3L306.6 325.1L304.7 325.9L302.9 326.6L301 327.4L299.1 328.2L297.2 328.9L295.3 329.7L293.4 330.4L291.6 331.2L289.7 331.9L287.8 332.6L285.9 333.3L284 334.1L282.1 334.7L280.2 335.4L278.3 336.1L276.3 336.7L274.4 337.4L272.5 338L270.6 338.6L268.7 339.2L266.8 339.7L264.8 340.2L262.9 340.7L261 341.2L259 341.7L257.1 342.1L255.2 342.5L253.2 342.9L251.3 343.2L249.3 343.5L247.4 343.8L245.4 344.1L243.5 344.3L241.5 344.5L239.6 344.7L237.6 344.9L235.7 345L233.7 345.2L231.7 345.3L229.8 345.4L227.8 345.4L225.8 345.5L223.8 345.5L221.9 345.5L219.9 345.5L217.9 345.4L215.9 345.4L213.9 345.3L212 345.2L210 345.1L208 345L206 344.9L204 344.7L202 344.6L200 344.4L198 344.2L196 344L194 343.8L192 343.6L190 343.4L188 343.2L186 343L184 342.7L182 342.5L179.9 342.3L177.9 342.1L175.9 341.9L173.9 341.7L171.9 341.5L169.9 341.3L167.9 341.1L165.9 340.9L163.9 340.8L161.9 340.6L159.9 340.5L157.8 340.4L155.8 340.3L153.8 340.2L151.8 340.2L149.8 340.1L147.8 340.1L145.8 340.2L143.8 340.2L141.8 340.3L139.9 340.4L137.9 340.5L135.9 340.7L133.9 340.9L131.9 341.1L129.9 341.4L127.9 341.7L126 342.1L124 342.5" fill="none" stroke="#ff00ff" stroke-width="2.5" stroke-linejoin="round" stroke-linecap="round"/>
<path d="M122.8 405.2L123 403.2L123.2 401.2L123.4 399.3L123.7 397.3L124 395.3L124.2 393.3L124.5 391.3L124.8 389.4L125.2 387.4L125.5 385.4L125.8 383.4L126.2 381.5L126.6 379.5L127 377.5L127.4 375.6L127.8 373.6L128.2 371.6L128.7 369.7L129.2 367.7L129.6 365.8L130.1 363.8L130.6 361.9L131.1 359.9L131.6 358L132.2 356L132.7 354.1L133.3 352.2L133.9 350.2L134.4 348.3L135 346.4L135.6 344.5L136.2 342.6L136.9 340.7L137.5 338.7L138.2 336.8L138.8 334.9L139.5 333.1L140.2 331.2L140.9 329.3L141.6 327.4L142.3 325.5L143 323.7L143.7 321.8L144.4 319.9L145.2 318.1L146 316.2L146.7 314.4L147.5 312.6L148.3 310.7L149.1 308.9L149.9 307.1L150.7 305.3L151.6 303.5L152.4 301.7L153.3 299.9L154.2 298.1L155 296.3L155.9 294.5L156.9 292.7L157.8 291L158.7 289.2L159.7 287.5L160.6 285.7L161.6 284L162.6 282.3L163.6 280.6L164.7 278.9L165.7 277.2L166.8 275.5L167.8 273.8L168.9 272.1L170 270.4L171.1 268.8L172.3 267.1L173.4 265.5L174.6 263.8L175.8 262.2L177 260.6L178.2 259L179.4 257.4L180.7 255.8L181.9 254.2L183.2 252.7L184.5 251.1L185.8 249.6L187.1 248L188.4 246.5L189.8 245L191.1 243.5L192.5 242L193.9 240.5L195.3 239.1L196.7 237.6L198.1 236.2L199.5 234.7L200.9 233.3L202.4 231.9L203.8 230.5L205.3 229.2L206.8 227.8L208.3 226.5L209.8 225.1L211.3 223.8L212.8 222.5L214.3 221.2L215.9 219.9L217.4 218.7L219 217.4L220.5 216.2L222.1 215L223.7 213.8L225.3 212.6L226.9 211.5L228.5 210.3L230.2 209.2L231.8 208.1L233.5 207L235.1 205.9L236.8 204.8L238.5 203.8L240.2 202.7L241.9 201.7L243.6 200.7L245.3 199.7L247 198.7L248.8 197.8L250.5 196.8L252.2 195.9L254 194.9L255.8 194L257.5 193.1L259.3 192.2L261.1 191.3L262.9 190.4L264.7 189.5L266.5 188.6L268.3 187.8L270.1 186.9L271.9 186.1L273.7 185.2L275.5 184.4L277.4 183.5L279.2 182.7L281 181.8L282.9 181L284.7 180.2L286.5 179.4L288.4 178.5L290.2 177.7L292.1 176.9L293.9 176.1L295.8 175.3L297.6 174.5L299.5 173.6L301.3 172.8L303.2 172L305.1 171.2L306.9 170.5L308.8 169.7L310.7 168.9L312.5 168.1L314.4 167.3L316.3 166.6L318.1 165.8L320 165L321.9 164.3L323.8 163.5L325.6 162.8L327.5 162.1L329.4 161.3L331.3 160.6L333.2 159.9L335.1 159.2L336.9 158.5L338.8 157.8L340.7 157.1L342.6 156.4L344.5 155.7L346.4 155L348.3 154.4L350.2 153.7L352 153L353.9 152.4L355.8 151.8L357.7 151.1L359.6 150.5L361.5 149.9L363.4 149.3L365.3 148.7L367.2 148.1L369 147.4L370.9 146.8L372.8 146.2L374.7 145.6L376.6 145L378.5 144.4L380.4 143.8L382.2 143.3L384.1 142.7L386 142L387.9 141.4L389.8 140.8L391.7 140.2L393.5 139.6L395.4 139L397.3 138.4L399.2 137.7L401 137.1L402.9 136.5L404.8 135.8L406.7 135.1L408.5 134.5L410.4 133.8L412.3 133.1L414.1 132.4L416 131.7L417.8 131L419.7 130.3L421.6 129.6L423.4 128.8L425.3 128.1L427.1 127.3L429 126.6L430.8 125.8L432.7 125L434.5 124.2L436.4 123.4L438.2 122.6L440.1 121.8L441.9 121L443.8 120.2L445.6 119.4L447.5 118.5L449.3 117.7L451.2 116.9L453 116L454.9 115.2L456.7 114.3L458.6 113.4L460.4 112.6L462.3 111.7L464.1 110.8L466 110L467.8 109.1L469.7 108.2L471.5 107.3L473.4 106.4L475.2 105.5L477.1 104.7L479 103.8L480.8 103L482.7 102.2L484.6 101.4L486.4 100.6L488.3 99.9L490.2 99.2L492.1 98.6L494 98L495.8 97.4L497.7 97L499.6 96.5L501.6 96.2L503.5 95.9L505.4 95.7L507.3 95.6L509.2 95.5L511.2 95.5L513.1 95.7L515.1 95.9L517 96.2L519 96.5L520.9 97L522.8 97.5L524.8 98L526.7 98.6L528.6 99.3L530.4 100L532.3 100.8L534.1 101.6L535.9 102.5L537.8 103.4L539.6 104.3L541.3 105.2L543.1 106.2L544.9 107.1L546.7 108.1L548.4 109.1L550.2 110.1L551.9 111.1L553.7 112.1L555.4 113.1L557.2 114.1L559 115.1L560.7 116L562.5 117L564.3 117.9L566 118.9L567.8 119.8L569.6 120.7L571.4 121.6L573.2 122.5L575 123.4L576.8 124.3L578.6 125.1L580.4 125.9L582.2 126.7L584 127.5L585.9 128.3L587.7 129L589.6 129.8L591.4 130.4L593.3 131.1L595.2 131.8L597.1 132.4L599 133L600.9 133.6L602.9 134.1L604.8 134.6L606.7 135.1L608.7 135.6L610.6 136L612.6 136.5L614.6 136.9L616.5 137.3L618.5 137.6L620.5 137.9L622.5 138.2L624.5 138.5L626.5 138.8L628.5 139L630.5 139.2L632.5 139.4L634.5 139.6L636.5 139.8L638.5 139.9L640.6 140L642.6 140.1L644.6 140.2L646.6 140.2L648.6 140.2L650.6 140.2L652.6 140.2L654.6 140.2L656.7 140.2L658.7 140.1L660.7 140L662.7 139.9L664.6 139.8L666.6 139.6L668.6 139.4L670.6 139.3L672.6 139.1L674.5 138.8L676.5 138.6L676.4 140.6L676.4 142.7L676.2 144.7L676.1 146.7L675.9 148.7L675.7 150.8L675.5 152.8L675.2 154.8L674.9 156.8L674.6 158.8L674.3 160.8L673.9 162.7L673.5 164.7L673 166.7L672.6 168.6L672.1 170.6L671.5 172.5L671 174.4L670.4 176.3L669.7 178.2L669 180.1L668.3 182L667.6 183.8L666.8 185.7L666 187.5L665.2 189.3L664.3 191.1L663.4 192.9L662.5 194.6L661.5 196.4L660.5 198.1L659.4 199.8L658.3 201.5L657.2 203.1L656.1 204.8L654.9 206.4L653.7 208L652.5 209.6L651.2 211.1L649.9 212.7L648.6 214.2L647.3 215.7L645.9 217.1L644.5 218.5L643.1 219.9L641.6 221.3L640.2 222.7L638.7 224L637.2 225.3L635.6 226.5L634.1 227.8L632.5 229L630.9 230.2L629.3 231.3L627.7 232.4L626.1 233.5L624.4 234.6L622.7 235.6L621 236.6L619.3 237.6L617.6 238.6L615.9 239.6L614.1 240.5L612.4 241.4L610.6 242.3L608.8 243.2L607 244L605.2 244.9L603.4 245.7L601.5 246.5L599.7 247.3L597.8 248.1L596 248.8L594.1 249.6L592.2 250.3L590.3 251L588.4 251.8L586.6 252.5L584.6 253.2L582.7 253.8L580.8 254.5L578.9 255.2L577 255.9L575.1 256.5L573.1 257.2L571.2 257.8L569.3 258.5L567.4 259.1L565.4 259.7L563.5 260.4L561.6 261L559.6 261.7L557.7 262.3L555.8 262.9L553.9 263.6L551.9 264.2L550 264.9L548.1 265.5L546.2 266.2L544.3 266.8L542.4 267.5L540.5 268.1L538.6 268.8L536.7 269.5L534.7 270.1L532.8 270.8L530.9 271.4L529.1 272.1L527.2 272.8L525.3 273.4L523.4 274.1L521.5 274.7L519.6 275.4L517.7 276L515.8 276.7L513.9 277.4L512 278L510.1 278.7L508.2 279.3L506.4 280L504.5 280.6L502.6 281.3L500.7 281.9L498.8 282.6L496.9 283.2L495 283.9L493.2 284.5L491.3 285.2L489.4 285.8L487.5 286.4L485.6 287.1L483.7 287.7L481.8 288.3L479.9 288.9L478 289.6L476.1 290.2L474.3 290.8L472.4 291.4L470.5 292L468.6 292.6L466.7 293.2L464.8 293.8L462.9 294.4L461 295L459.1 295.6L457.2 296.2L455.3 296.7L453.3 297.3L451.4 297.9L449.5 298.5L447.6 299.1L445.7 299.6L443.8 300.2L441.9 300.8L440 301.4L438.1 302L436.2 302.6L434.3 303.2L432.4 303.8L430.5 304.4L428.6 305L426.7 305.6L424.8 306.3L422.9 306.9L421 307.5L419.1 308.2L417.2 308.8L415.3 309.5L413.4 310.2L411.5 310.9L409.6 311.6L407.7 312.3L405.8 313L404 313.7L402.1 314.5L400.2 315.2L398.3 316L396.5 316.7L394.6 317.5L392.7 318.3L390.9 319.1L389 319.9L387.2 320.7L385.3 321.5L383.5 322.4L381.6 323.2L379.8 324.1L378 324.9L376.1 325.8L374.3 326.6L372.5 327.5L370.7 328.4L368.9 329.3L367.1 330.2L365.3 331.1L363.5 332L361.7 332.9L359.9 333.9L358.1 334.8L356.3 335.7L354.6 336.7L352.8 337.6L351 338.6L349.3 339.5L347.5 340.5L345.8 341.5L344 342.4L342.3 343.4L340.6 344.4L338.8 345.4L337.1 346.4L335.4 347.4L333.6 348.4L331.9 349.4L330.2 350.4L328.4 351.4L326.7 352.4L325 353.4L323.3 354.4L321.5 355.4L319.8 356.4L318.1 357.4L316.4 358.4L314.7 359.4L312.9 360.4L311.2 361.4L309.5 362.4L307.8 363.4L306 364.5L304.3 365.5L302.6 366.5L300.9 367.5L299.1 368.5L297.4 369.5L295.7 370.5L293.9 371.4L292.2 372.4L290.4 373.4L288.7 374.4L286.9 375.4L285.2 376.4L283.4 377.3L281.7 378.3L279.9 379.3L278.1 380.2L276.3 381.2L274.6 382.1L272.8 383.1L271 384L269.2 384.9L267.4 385.8L265.6 386.7L263.8 387.6L262 388.5L260.2 389.4L258.3 390.3L256.5 391.2L254.7 392L252.8 392.9L251 393.7L249.2 394.5L247.3 395.3L245.4 396.1L243.6 396.9L241.7 397.6L239.9 398.4L238 399.1L236.1 399.8L234.2 400.5L232.3 401.2L230.4 401.8L228.6 402.5L226.7 403.1L224.7 403.7L222.8 404.3L220.9 404.8L219 405.4L217.1 405.9L215.2 406.4L213.2 406.9L211.3 407.3L209.3 407.7L207.4 408.1L205.4 408.5L203.5 408.9L201.5 409.2L199.6 409.5L197.6 409.8L195.6 410L193.6 410.3L191.6 410.5L189.7 410.6L187.7 410.8L185.7 410.9L183.7 411.1L181.7 411.2L179.7 411.2L177.7 411.3L175.6 411.3L173.6 411.4L171.6 411.4L169.6 411.4L167.6 411.4L165.6 411.4L163.6 411.3L161.5 411.3L159.5 411.2L157.5 411.2L155.5 411.1L153.5 411L151.5 410.9L149.4 410.9L147.4 410.8L145.4 410.7L143.4 410.6L141.4 410.5L139.4 410.4L137.4 410.3L135.4 410.2L133.4 410.1L131.4 410L129.4 409.9L127.4 409.8L125.4 409.8L123.4 409.7" fill="none" stroke="#008000" stroke-width="2.5" stroke-linejoin="round" stroke-linecap="round"/>
<path d="M861.2 222L861.8 220.1L862.7 218.4L863.8 216.9L865 215.5L866.5 214.4L868 213.4L869.7 212.5L871.4 211.8L873.2 211.2L875.1 210.7L877 210.2L879 209.9L881 209.6L883 209.3L885.1 209.1L887.1 208.9L889.2 208.7L891.2 208.5L893.2 208.4L895.3 208.2L897.3 208.1L899.3 208L901.4 207.8L903.4 207.7L905.4 207.6L907.5 207.6L909.5 207.5L911.5 207.4L913.5 207.3L915.6 207.3L917.6 207.3L919.6 207.2L921.6 207.2L923.7 207.2L925.7 207.1L927.7 207.1L929.7 207.1L931.7 207.1L933.8 207.1L935.8 207.1L937.8 207.1L939.8 207.2L941.8 207.2L943.8 207.2L945.8 207.2L947.8 207.2L949.9 207.3L951.9 207.3L953.9 207.3L955.9 207.3L957.9 207.3L959.9 207.4L961.9 207.4L963.9 207.4L965.9 207.4L967.9 207.4L969.9 207.4L971.9 207.4L973.9 207.4L975.9 207.4L977.9 207.4L979.9 207.4L981.9 207.4L983.9 207.4L985.9 207.4L987.9 207.3L989.9 207.3L991.9 207.3L993.9 207.3L995.9 207.2L997.9 207.2L999.9 207.2L1001.9 207.1L1003.9 207.1L1005.9 207.1L1007.9 207L1009.9 207L1011.9 206.9L1013.9 206.9L1015.9 206.8L1017.9 206.8L1019.9 206.8L1021.9 206.7L1023.9 206.7L1025.9 206.6L1027.9 206.6L1029.9 206.5L1031.9 206.5L1033.9 206.4L1035.9 206.4L1037.8 206.3L1039.8 206.3L1041.8 206.3L1043.8 206.2L1045.8 206.2L1047.8 206.1L1049.8 206.1L1051.8 206L1053.8 206L1055.8 206L1057.8 205.9L1059.8 205.9L1061.8 205.9L1063.8 205.9L1065.8 205.8L1067.8 205.8L1069.8 205.8L1071.8 205.7L1073.8 205.7L1075.8 205.7L1077.8 205.7L1079.8 205.7L1081.8 205.7L1083.8 205.6L1085.8 205.6L1087.8 205.6L1089.8 205.6L1091.8 205.6L1093.8 205.6L1095.8 205.6L1097.8 205.6L1099.8 205.6L1101.8 205.5L1103.8 205.5L1105.8 205.5L1107.8 205.5L1109.9 205.5L1111.9 205.5L1113.9 205.5L1115.9 205.5L1117.9 205.5L1119.9 205.5L1121.9 205.5L1123.9 205.5L1125.9 205.5L1127.9 205.5L1129.9 205.6L1131.9 205.6L1133.9 205.6L1135.9 205.6L1137.9 205.6L1139.9 205.6L1141.9 205.6L1143.9 205.6L1145.9 205.6L1148 205.6L1150 205.6L1152 205.7L1154 205.7L1156 205.7L1158 205.7L1160 205.7L1162 205.7L1164 205.7L1166 205.7L1168 205.8L1170 205.8L1172 205.8L1174 205.8L1176 205.8L1178.1 205.8L1180.1 205.8L1182.1 205.9L1184.1 205.9L1186.1 205.9L1188.1 205.9L1190.1 205.9L1192.1 205.9L1194.1 205.9L1196.1 206L1198.1 206L1200.1 206L1202.2 206L1204.2 206L1206.2 206L1208.2 206L1210.2 206L1212.2 206.1L1214.2 206.1L1216.2 206.1L1218.2 206.1L1220.2 206.1L1222.2 206.1L1224.2 206.1L1226.2 206.1L1228.3 206.1L1230.3 206.1L1232.3 206.2L1234.3 206.2L1236.3 206.2L1238.3 206.2L1240.3 206.2L1242.3 206.2L1244.3 206.2L1246.3 206.2L1248.3 206.2L1250.3 206.2L1252.4 206.2L1254.4 206.2L1256.4 206.2L1258.4 206.2L1260.4 206.2L1262.4 206.2L1264.4 206.2L1266.4 206.2L1268.4 206.1L1270.4 206.1L1272.4 206.1L1274.4 206.1L1276.4 206.1L1278.4 206.1L1280.5 206.1L1282.5 206.1L1284.5 206L1286.5 206L1288.5 206L1290.5 206L1292.5 206L1294.5 205.9L1296.5 205.9L1298.5 205.9L1300.5 205.9L1302.5 205.8L1304.5 205.8L1306.5 205.8L1308.5 205.7L1310.5 205.7L1312.5 205.7L1314.5 205.6L1316.5 205.6L1318.6 205.5L1320.6 205.5L1322.6 205.5L1324.6 205.4L1326.6 205.4L1328.6 205.3L1330.6 205.3L1332.6 205.2L1334.6 205.1L1336.6 205.1L1338.6 205L1340.6 205L1342.6 204.9L1344.6 204.8L1346.6 204.8L1348.6 204.7L1350.6 204.6L1352.6 204.5L1354.6 204.5L1356.6 204.4L1358.6 204.3L1360.6 204.2L1362.6 204.1L1364.6 204L1366.6 204L1368.6 203.9L1370.6 203.7L1372.6 203.6L1374.6 203.5L1376.6 203.4L1378.6 203.3L1380.6 203.1L1382.6 203L1384.6 202.8L1386.6 202.7L1388.6 202.5L1390.6 202.3L1392.6 202.2L1394.6 202L1396.5 201.8L1398.5 201.6L1400.5 201.3L1402.5 201.1L1404.5 200.9L1406.5 200.6L1408.5 200.4L1410.5 200.1L1412.5 199.8" fill="none" stroke="#000000" stroke-width="2.5" stroke-linejoin="round" stroke-linecap="round"/>
<path d="M1415.9 215L1413.9 215.1L1411.9 215.2L1409.9 215.2L1407.9 215.3L1405.9 215.4L1403.9 215.5L1401.9 215.6L1399.9 215.6L1397.9 215.7L1395.8 215.8L1393.8 215.9L1391.8 215.9L1389.8 216L1387.8 216.1L1385.8 216.2L1383.8 216.2L1381.8 216.3L1379.8 216.4L1377.8 216.5L1375.8 216.5L1373.8 216.6L1371.8 216.7L1369.8 216.7L1367.8 216.8L1365.8 216.9L1363.8 216.9L1361.7 217L1359.7 217.1L1357.7 217.1L1355.7 217.2L1353.7 217.3L1351.7 217.3L1349.7 217.4L1347.7 217.5L1345.7 217.5L1343.7 217.6L1341.7 217.6L1339.7 217.7L1337.7 217.8L1335.7 217.8L1333.7 217.9L1331.7 217.9L1329.7 218L1327.6 218.1L1325.6 218.1L1323.6 218.2L1321.6 218.2L1319.6 218.3L1317.6 218.3L1315.6 218.4L1313.6 218.5L1311.6 218.5L1309.6 218.6L1307.6 218.6L1305.6 218.7L1303.6 218.7L1301.6 218.8L1299.6 218.8L1297.6 218.9L1295.5 218.9L1293.5 219L1291.5 219L1289.5 219.1L1287.5 219.1L1285.5 219.2L1283.5 219.2L1281.5 219.3L1279.5 219.3L1277.5 219.4L1275.5 219.4L1273.5 219.5L1271.5 219.5L1269.5 219.6L1267.5 219.6L1265.4 219.7L1263.4 219.7L1261.4 219.8L1259.4 219.8L1257.4 219.9L1255.4 219.9L1253.4 220L1251.4 220L1249.4 220L1247.4 220.1L1245.4 220.1L1243.4 220.2L1241.4 220.2L1239.4 220.3L1237.4 220.3L1235.4 220.4L1233.3 220.4L1231.3 220.4L1229.3 220.5L1227.3 220.5L1225.3 220.6L1223.3 220.6L1221.3 220.6L1219.3 220.7L1217.3 220.7L1215.3 220.8L1213.3 220.8L1211.3 220.9L1209.3 220.9L1207.3 220.9L1205.3 221L1203.2 221L1201.2 221.1L1199.2 221.1L1197.2 221.1L1195.2 221.2L1193.2 221.2L1191.2 221.3L1189.2 221.3L1187.2 221.3L1185.2 221.4L1183.2 221.4L1181.2 221.5L1179.2 221.5L1177.2 221.5L1175.1 221.6L1173.1 221.6L1171.1 221.7L1169.1 221.7L1167.1 221.7L1165.1 221.8L1163.1 221.8L1161.1 221.9L1159.1 221.9L1157.1 221.9L1155.1 222L1153.1 222L1151.1 222.1L1149.1 222.1L1147.1 222.1L1145 222.2L1143 222.2L1141 222.3L1139 222.3L1137 222.3L1135 222.4L1133 222.4L1131 222.5L1129 222.5L1127 222.5L1125 222.6L1123 222.6L1121 222.7L1119 222.7L1117 222.7L1114.9 222.8L1112.9 222.8L1110.9 222.9L1108.9 222.9L1106.9 222.9L1104.9 223L1102.9 223L1100.9 223.1L1098.9 223.1L1096.9 223.2L1094.9 223.2L1092.9 223.2L1090.9 223.3L1088.9 223.3L1086.9 223.4L1084.8 223.4L1082.8 223.5L1080.8 223.5L1078.8 223.5L1076.8 223.6L1074.8 223.6L1072.8 223.7L1070.8 223.7L1068.8 223.8L1066.8 223.8L1064.8 223.9L1062.8 223.9L1060.8 223.9L1058.8 224L1056.8 224L1054.7 224.1L1052.7 224.1L1050.7 224.2L1048.7 224.2L1046.7 224.3L1044.7 224.3L1042.7 224.4L1040.7 224.4L1038.7 224.5L1036.7 224.5L1034.7 224.6L1032.7 224.6L1030.7 224.7L1028.7 224.7L1026.7 224.8L1024.6 224.8L1022.6 224.9L1020.6 224.9L1018.6 225L1016.6 225L1014.6 225.1L1012.6 225.1L1010.6 225.2L1008.6 225.3L1006.6 225.3L1004.6 225.4L1002.6 225.4L1000.6 225.5L998.6 225.5L996.6 225.6L994.6 225.6L992.6 225.7L990.5 225.8L988.5 225.8L986.5 225.9L984.5 225.9L982.5 226L980.5 226.1L978.5 226.1L976.5 226.2L974.5 226.2L972.5 226.3L970.5 226.4L968.5 226.4L966.5 226.5L964.5 226.6L962.5 226.6L960.5 226.7L958.4 226.8L956.4 226.8L954.4 226.9L952.4 227L950.4 227L948.4 227.1L946.4 227.2L944.4 227.2L942.4 227.3L940.4 227.4L938.4 227.5L936.4 227.5L934.4 227.6L932.4 227.7L930.4 227.8L928.4 227.8L926.4 227.9L924.4 228L922.3 228.1L920.3 228.1L918.3 228.2L916.3 228.3L914.3 228.4L912.3 228.5L910.3 228.5L908.3 228.6L906.3 228.7L904.3 228.8L902.3 228.9L900.3 229L898.3 229L896.3 229.1L894.3 229.2L892.3 229.3L890.3 229.4L888.3 229.5L886.3 229.6L884.2 229.7L882.2 229.7L880.2 229.8L878.2 229.9L876.2 230L874.2 230.1L872.2 230.2L870.2 230.3L868.2 230.4L866.2 230.5L864.2 230.6" fill="none" stroke="#000000" stroke-width="3.6" stroke-linejoin="round" stroke-linecap="round"/>
<path d="M862.7 241.4L862.2 239.7L861.8 237.8L861.5 235.9L861.3 233.8L861.2 231.7L861.2 229.6L861.3 227.5L861.5 225.3L861.9 223.2L862.3 221.1L862.9 219L863.6 217.1L864.4 215.2L865.3 213.4L866.4 211.8L867.6 210.3L868.9 209L870.3 207.9L871.9 206.9L873.6 206.1L875.4 205.4L877.2 204.9L879.1 204.4L881 204L883 203.7L885 203.3L887 203L888.9 202.7L890.9 202.5L892.9 202.2L894.9 202L896.9 201.7L898.9 201.5L900.9 201.3L902.8 201.1L904.8 200.9L906.8 200.7L908.8 200.6L910.8 200.4L912.8 200.3L914.8 200.1L916.8 200L918.8 199.9L920.8 199.8L922.8 199.7L924.8 199.6L926.8 199.5L928.8 199.4L930.8 199.3L932.8 199.3L934.8 199.2L936.8 199.1L938.8 199.1L940.8 199.1L942.8 199L944.8 199L946.8 199L948.8 198.9L950.8 198.9L952.9 198.9L954.9 198.9L956.9 198.8L958.9 198.8L960.9 198.8L962.9 198.8L964.9 198.8L966.9 198.8L968.9 198.8L970.9 198.8L972.9 198.7L974.9 198.7L976.9 198.7L979 198.7L981 198.7L983 198.7L985 198.7L987 198.7L989 198.6L991 198.6L993 198.6L995 198.6L997 198.6L999 198.6L1001 198.6L1003 198.5L1005 198.5L1007 198.5L1009.1 198.5L1011.1 198.5L1013.1 198.5L1015.1 198.5L1017.1 198.4L1019.1 198.4L1021.1 198.4L1023.1 198.4L1025.1 198.4L1027.1 198.4L1029.1 198.4L1031.1 198.3L1033.1 198.3L1035.1 198.3L1037.1 198.3L1039.1 198.3L1041.1 198.3L1043.2 198.3L1045.2 198.2L1047.2 198.2L1049.2 198.2L1051.2 198.2L1053.2 198.2L1055.2 198.2L1057.2 198.2L1059.2 198.1L1061.2 198.1L1063.2 198.1L1065.2 198.1L1067.2 198.1L1069.2 198.1L1071.2 198.1L1073.2 198.1L1075.2 198L1077.2 198L1079.2 198L1081.2 198L1083.2 198L1085.3 198L1087.3 198L1089.3 198L1091.3 198L1093.3 198L1095.3 197.9L1097.3 197.9L1099.3 197.9L1101.3 197.9L1103.3 197.9L1105.3 197.9L1107.3 197.9L1109.3 197.9L1111.3 197.9L1113.3 197.9L1115.3 197.9L1117.3 197.9L1119.3 197.9L1121.3 197.9L1123.3 197.9L1125.3 197.9L1127.3 197.9L1129.3 197.9L1131.3 197.9L1133.3 197.9L1135.3 197.9L1137.3 197.9L1139.3 197.9L1141.4 197.9L1143.4 197.9L1145.4 197.9L1147.4 197.9L1149.4 197.9L1151.4 197.9L1153.4 197.9L1155.4 197.9L1157.4 197.9L1159.4 197.9L1161.4 197.9L1163.4 197.9L1165.4 197.9L1167.4 197.9L1169.4 197.9L1171.4 197.9L1173.4 198L1175.4 198L1177.4 198L1179.4 198L1181.4 198L1183.4 198L1185.4 198L1187.4 198.1L1189.4 198.1L1191.4 198.1L1193.4 198.1L1195.4 198.1L1197.4 198.1L1199.4 198.2L1201.4 198.2L1203.4 198.2L1205.4 198.2L1207.4 198.3L1209.4 198.3L1211.4 198.3L1213.4 198.3L1215.4 198.4L1217.4 198.4L1219.4 198.4L1221.4 198.4L1223.4 198.5L1225.4 198.5L1227.4 198.5L1229.4 198.6L1231.4 198.6L1233.4 198.6L1235.4 198.7L1237.4 198.7L1239.4 198.8L1241.4 198.8L1243.4 198.8L1245.4 198.9L1247.4 198.9L1249.4 199L1251.4 199L1253.4 199L1255.4 199.1L1257.4 199.1L1259.4 199.2L1261.4 199.2L1263.4 199.3L1265.4 199.3L1267.4 199.3L1269.4 199.4L1271.5 199.4L1273.5 199.5L1275.5 199.5L1277.5 199.5L1279.5 199.6L1281.5 199.6L1283.5 199.6L1285.5 199.7L1287.5 199.7L1289.5 199.7L1291.5 199.8L1293.5 199.8L1295.5 199.8L1297.5 199.8L1299.5 199.8L1301.5 199.9L1303.5 199.9L1305.5 199.9L1307.5 199.9L1309.5 199.9L1311.5 199.9L1313.4 199.9L1315.4 199.9L1317.4 199.9L1319.4 199.9L1321.4 199.9L1323.4 199.9L1325.4 199.9L1327.4 199.9L1329.4 199.8L1331.4 199.8L1333.4 199.8L1335.4 199.8L1337.4 199.7L1339.4 199.7L1341.4 199.6L1343.4 199.6L1345.4 199.5L1347.4 199.5L1349.4 199.4L1351.4 199.4L1353.4 199.3L1355.4 199.2L1357.4 199.1L1359.4 199L1361.4 199L1363.4 198.9L1365.4 198.8L1367.4 198.7L1369.4 198.5L1371.4 198.4L1373.4 198.3L1375.4 198.2L1377.4 198L1379.4 197.9L1381.4 197.8L1383.4 197.6L1385.4 197.5L1387.4 197.3L1389.4 197.1L1391.4 196.9L1393.4 196.8L1395.4 196.6L1397.4 196.4L1399.4 196.2L1401.4 196L1403.4 195.8L1405.4 195.5L1407.4 195.3L1409.4 195.1L1411.4 194.8L1413.4 194.6L1415.4 194.3L1416.2 195.4L1416.7 196.9L1416.9 199L1416.7 201.5L1416.3 204.1L1415.6 206.6L1414.7 208.7L1413.6 210.5L1412.3 212L1410.9 213.3L1409.3 214.3L1407.6 215.1L1405.8 215.8L1403.9 216.4L1402.1 216.9L1400.2 217.3L1398.2 217.8L1396.3 218.2L1394.4 218.6L1392.5 219L1390.6 219.3L1388.6 219.7L1386.7 220L1384.8 220.3L1382.8 220.6L1380.9 220.9L1378.9 221.2L1377 221.4L1375 221.7L1373 221.9L1371.1 222.1L1369.1 222.3L1367.1 222.5L1365.2 222.7L1363.2 222.8L1361.2 223L1359.2 223.1L1357.2 223.2L1355.3 223.4L1353.3 223.5L1351.3 223.6L1349.3 223.7L1347.3 223.8L1345.3 223.8L1343.3 223.9L1341.3 224L1339.3 224L1337.3 224.1L1335.3 224.1L1333.3 224.2L1331.3 224.2L1329.3 224.3L1327.2 224.3L1325.2 224.3L1323.2 224.4L1321.2 224.4L1319.2 224.4L1317.2 224.5L1315.2 224.5L1313.1 224.5L1311.1 224.5L1309.1 224.6L1307.1 224.6L1305.1 224.6L1303.1 224.7L1301 224.7L1299 224.8L1297 224.8L1295 224.9L1293 224.9L1291 225L1289 225L1286.9 225.1L1284.9 225.2L1282.9 225.2L1280.9 225.3L1278.9 225.4L1276.9 225.5L1274.9 225.5L1272.8 225.6L1270.8 225.7L1268.8 225.8L1266.8 225.9L1264.8 226L1262.8 226.1L1260.8 226.2L1258.8 226.3L1256.8 226.4L1254.7 226.5L1252.7 226.6L1250.7 226.7L1248.7 226.8L1246.7 226.9L1244.7 227L1242.7 227.1L1240.7 227.3L1238.7 227.4L1236.7 227.5L1234.7 227.6L1232.6 227.7L1230.6 227.8L1228.6 227.9L1226.6 228.1L1224.6 228.2L1222.6 228.3L1220.6 228.4L1218.6 228.5L1216.6 228.6L1214.6 228.8L1212.6 228.9L1210.6 229L1208.6 229.1L1206.6 229.2L1204.6 229.3L1202.6 229.4L1200.5 229.6L1198.5 229.7L1196.5 229.8L1194.5 229.9L1192.5 230L1190.5 230.1L1188.5 230.2L1186.5 230.3L1184.5 230.4L1182.5 230.5L1180.5 230.6L1178.5 230.7L1176.5 230.8L1174.5 230.9L1172.5 230.9L1170.5 231L1168.5 231.1L1166.5 231.2L1164.5 231.3L1162.5 231.3L1160.5 231.4L1158.5 231.5L1156.5 231.5L1154.5 231.6L1152.5 231.6L1150.5 231.7L1148.5 231.7L1146.5 231.8L1144.5 231.8L1142.5 231.8L1140.5 231.9L1138.5 231.9L1136.5 231.9L1134.5 232L1132.5 232L1130.5 232L1128.5 232L1126.5 232L1124.5 232.1L1122.5 232.1L1120.5 232.1L1118.5 232.1L1116.5 232.1L1114.5 232.1L1112.5 232.1L1110.5 232.1L1108.5 232.1L1106.5 232.2L1104.5 232.2L1102.5 232.2L1100.5 232.2L1098.5 232.2L1096.5 232.2L1094.5 232.2L1092.5 232.2L1090.5 232.2L1088.5 232.2L1086.5 232.3L1084.5 232.3L1082.5 232.3L1080.5 232.3L1078.5 232.3L1076.5 232.4L1074.5 232.4L1072.5 232.4L1070.5 232.5L1068.5 232.5L1066.6 232.5L1064.6 232.6L1062.6 232.6L1060.6 232.7L1058.6 232.7L1056.6 232.8L1054.6 232.8L1052.6 232.9L1050.6 232.9L1048.6 233L1046.6 233L1044.6 233.1L1042.6 233.1L1040.6 233.2L1038.6 233.3L1036.6 233.3L1034.6 233.4L1032.6 233.4L1030.6 233.5L1028.6 233.6L1026.6 233.6L1024.6 233.7L1022.6 233.7L1020.6 233.8L1018.6 233.9L1016.6 233.9L1014.6 234L1012.6 234L1010.6 234.1L1008.6 234.1L1006.7 234.2L1004.7 234.2L1002.7 234.3L1000.7 234.3L998.7 234.4L996.7 234.4L994.7 234.4L992.7 234.5L990.7 234.5L988.7 234.5L986.7 234.6L984.7 234.6L982.7 234.6L980.7 234.6L978.7 234.7L976.7 234.7L974.7 234.7L972.7 234.7L970.7 234.7L968.7 234.7L966.7 234.8L964.7 234.8L962.7 234.8L960.7 234.8L958.7 234.8L956.7 234.8L954.7 234.9L952.7 234.9L950.7 234.9L948.7 234.9L946.7 235L944.7 235L942.7 235L940.7 235L938.7 235.1L936.7 235.1L934.7 235.2L932.7 235.2L930.7 235.3L928.7 235.3L926.7 235.4L924.7 235.5L922.7 235.5L920.7 235.6L918.7 235.7L916.7 235.8L914.7 235.9L912.7 236L910.7 236.1L908.7 236.2L906.7 236.4L904.7 236.5L902.7 236.6L900.7 236.8L898.7 236.9L896.7 237.1L894.7 237.3L892.7 237.4L890.7 237.6L888.7 237.8L886.7 238L884.7 238.3L882.7 238.5L880.7 238.7L878.7 239L876.7 239.2L874.7 239.5L872.7 239.8L870.7 240.1L868.7 240.4L866.7 240.7L864.7 241.1L862.7 241.4" fill="none" stroke="#ff0000" stroke-width="2.5" stroke-linejoin="round" stroke-linecap="round"/>
<path d="M861.5 234.7L861.5 232.7L861.5 230.8L861.5 228.8L861.6 226.8L861.7 224.8L861.8 222.8L862 220.8L862.2 218.8L862.5 216.9L862.8 214.9L863.2 212.9L863.7 210.9L864.3 208.9L865 206.9L865.8 204.9L866.6 203L867.6 201.1L868.6 199.3L869.8 197.6L871 196L872.4 194.5L873.8 193.2L875.4 192L877 191L878.6 190.2L880.4 189.4L882.2 188.8L884 188.3L885.8 187.9L887.7 187.5L889.6 187.1L891.5 186.8L893.4 186.4L895.3 186.2L897.2 185.9L899.2 185.6L901.1 185.4L903.1 185.2L905 185L907 184.8L909 184.7L910.9 184.6L912.9 184.4L914.9 184.3L916.9 184.2L918.9 184.1L920.9 184.1L922.9 184L924.9 183.9L926.9 183.9L929 183.8L931 183.8L933 183.8L935 183.7L937 183.7L939.1 183.7L941.1 183.6L943.1 183.6L945.1 183.6L947.1 183.5L949.2 183.5L951.2 183.5L953.2 183.5L955.2 183.4L957.2 183.4L959.2 183.4L961.3 183.3L963.3 183.3L965.3 183.3L967.3 183.3L969.3 183.2L971.3 183.2L973.4 183.2L975.4 183.1L977.4 183.1L979.4 183.1L981.4 183.1L983.4 183L985.4 183L987.5 183L989.5 183L991.5 182.9L993.5 182.9L995.5 182.9L997.5 182.9L999.5 182.9L1001.5 182.8L1003.6 182.8L1005.6 182.8L1007.6 182.8L1009.6 182.7L1011.6 182.7L1013.6 182.7L1015.6 182.7L1017.6 182.7L1019.6 182.6L1021.6 182.6L1023.7 182.6L1025.7 182.6L1027.7 182.6L1029.7 182.5L1031.7 182.5L1033.7 182.5L1035.7 182.5L1037.7 182.5L1039.7 182.5L1041.7 182.5L1043.7 182.4L1045.7 182.4L1047.7 182.4L1049.7 182.4L1051.8 182.4L1053.8 182.4L1055.8 182.4L1057.8 182.3L1059.8 182.3L1061.8 182.3L1063.8 182.3L1065.8 182.3L1067.8 182.3L1069.8 182.3L1071.8 182.3L1073.8 182.3L1075.8 182.3L1077.8 182.3L1079.8 182.2L1081.8 182.2L1083.8 182.2L1085.8 182.2L1087.8 182.2L1089.8 182.2L1091.8 182.2L1093.8 182.2L1095.8 182.2L1097.8 182.2L1099.8 182.2L1101.8 182.2L1103.8 182.2L1105.8 182.2L1107.8 182.2L1109.8 182.2L1111.8 182.2L1113.8 182.2L1115.8 182.2L1117.8 182.2L1119.8 182.2L1121.8 182.2L1123.8 182.2L1125.8 182.2L1127.8 182.2L1129.8 182.2L1131.8 182.3L1133.8 182.3L1135.8 182.3L1137.8 182.3L1139.8 182.3L1141.8 182.3L1143.8 182.3L1145.8 182.3L1147.8 182.3L1149.8 182.3L1151.8 182.4L1153.8 182.4L1155.8 182.4L1157.8 182.4L1159.8 182.4L1161.8 182.4L1163.8 182.4L1165.8 182.5L1167.8 182.5L1169.8 182.5L1171.8 182.5L1173.8 182.5L1175.8 182.6L1177.8 182.6L1179.8 182.6L1181.8 182.6L1183.8 182.6L1185.8 182.7L1187.8 182.7L1189.8 182.7L1191.8 182.7L1193.8 182.8L1195.8 182.8L1197.8 182.8L1199.8 182.8L1201.8 182.9L1203.8 182.9L1205.8 182.9L1207.7 183L1209.7 183L1211.7 183L1213.7 183.1L1215.7 183.1L1217.7 183.1L1219.7 183.2L1221.7 183.2L1223.7 183.2L1225.7 183.3L1227.7 183.3L1229.7 183.4L1231.7 183.4L1233.7 183.4L1235.7 183.5L1237.7 183.5L1239.7 183.6L1241.7 183.6L1243.7 183.7L1245.7 183.7L1247.7 183.7L1249.7 183.8L1251.7 183.8L1253.7 183.9L1255.7 183.9L1257.6 184L1259.6 184L1261.6 184.1L1263.6 184.1L1265.6 184.2L1267.6 184.2L1269.6 184.3L1271.6 184.3L1273.6 184.4L1275.6 184.5L1277.6 184.5L1279.6 184.6L1281.6 184.6L1283.6 184.7L1285.6 184.7L1287.6 184.8L1289.6 184.8L1291.6 184.8L1293.6 184.9L1295.6 184.9L1297.6 185L1299.6 185L1301.6 185L1303.6 185.1L1305.6 185.1L1307.6 185.1L1309.5 185.2L1311.5 185.2L1313.5 185.2L1315.5 185.2L1317.5 185.2L1319.5 185.3L1321.5 185.3L1323.5 185.3L1325.5 185.3L1327.5 185.3L1329.5 185.3L1331.5 185.3L1333.5 185.3L1335.5 185.2L1337.5 185.2L1339.5 185.2L1341.5 185.2L1343.5 185.1L1345.5 185.1L1347.5 185L1349.5 185L1351.5 184.9L1353.5 184.9L1355.5 184.8L1357.5 184.8L1359.5 184.7L1361.5 184.6L1363.5 184.5L1365.5 184.4L1367.5 184.3L1369.5 184.2L1371.5 184.1L1373.5 184L1375.5 183.8L1377.5 183.7L1379.5 183.6L1381.5 183.4L1383.5 183.3L1385.5 183.1L1387.5 182.9L1389.5 182.8L1391.5 182.6L1393.5 182.4L1395.5 182.2L1397.5 182L1399.5 181.8L1401.5 181.5L1403.5 181.3L1405.5 181.1L1407.5 180.8L1409.5 180.5L1411.5 180.3L1413.5 180L1414.4 181.9L1414.8 183.9L1414.9 185.8L1414.8 187.8L1414.7 189.9L1414.7 191.9L1414.8 193.9L1414.9 195.9L1414.9 197.9L1414.8 199.9L1414.6 201.9L1414.2 203.8L1413.7 205.7L1412.9 207.5L1412.1 209.3L1411.1 211L1410 212.7L1408.8 214.3L1407.5 215.8L1406.1 217.3L1404.7 218.7L1403.1 220L1401.6 221.2L1399.9 222.3L1398.3 223.4L1396.6 224.3L1394.8 225.2L1393.1 226L1391.3 226.7L1389.4 227.3L1387.6 227.9L1385.7 228.4L1383.8 228.9L1381.8 229.3L1379.9 229.6L1377.9 229.9L1375.9 230.2L1373.9 230.4L1371.9 230.6L1369.9 230.8L1367.8 230.9L1365.8 231L1363.7 231.1L1361.6 231.2L1359.6 231.3L1357.5 231.3L1355.4 231.4L1353.4 231.5L1351.3 231.6L1349.3 231.7L1347.2 231.8L1345.2 231.9L1343.1 232L1341.1 232.1L1339.1 232.3L1337.1 232.4L1335 232.6L1333 232.7L1331 232.9L1329 233L1327 233.2L1325 233.4L1323 233.6L1321 233.7L1319 233.9L1317 234.1L1315 234.3L1313 234.5L1311 234.7L1309 234.9L1307 235.1L1305.1 235.3L1303.1 235.4L1301.1 235.6L1299.1 235.8L1297.1 236L1295.1 236.2L1293.1 236.4L1291.1 236.6L1289.2 236.8L1287.2 236.9L1285.2 237.1L1283.2 237.3L1281.2 237.5L1279.2 237.7L1277.2 237.8L1275.2 238L1273.2 238.2L1271.2 238.4L1269.2 238.5L1267.2 238.7L1265.2 238.9L1263.3 239L1261.3 239.2L1259.3 239.4L1257.3 239.5L1255.3 239.7L1253.3 239.9L1251.3 240L1249.3 240.2L1247.3 240.3L1245.3 240.5L1243.3 240.6L1241.3 240.8L1239.3 240.9L1237.3 241.1L1235.3 241.2L1233.3 241.4L1231.3 241.5L1229.3 241.7L1227.3 241.8L1225.3 242L1223.3 242.1L1221.3 242.2L1219.3 242.4L1217.3 242.5L1215.3 242.7L1213.3 242.8L1211.3 242.9L1209.3 243.1L1207.3 243.2L1205.3 243.3L1203.3 243.4L1201.3 243.6L1199.3 243.7L1197.3 243.8L1195.3 244L1193.3 244.1L1191.3 244.2L1189.3 244.3L1187.3 244.4L1185.3 244.6L1183.3 244.7L1181.3 244.8L1179.3 244.9L1177.3 245L1175.3 245.1L1173.2 245.2L1171.2 245.4L1169.2 245.5L1167.2 245.6L1165.2 245.7L1163.2 245.8L1161.2 245.9L1159.2 246L1157.2 246.1L1155.2 246.2L1153.2 246.3L1151.2 246.4L1149.2 246.5L1147.2 246.6L1145.2 246.7L1143.2 246.8L1141.2 246.9L1139.1 247L1137.1 247.1L1135.1 247.2L1133.1 247.3L1131.1 247.3L1129.1 247.4L1127.1 247.5L1125.1 247.6L1123.1 247.7L1121.1 247.8L1119.1 247.9L1117.1 247.9L1115.1 248L1113.1 248.1L1111 248.2L1109 248.3L1107 248.3L1105 248.4L1103 248.5L1101 248.6L1099 248.6L1097 248.7L1095 248.8L1093 248.9L1091 248.9L1089 249L1086.9 249.1L1084.9 249.1L1082.9 249.2L1080.9 249.3L1078.9 249.3L1076.9 249.4L1074.9 249.5L1072.9 249.5L1070.9 249.6L1068.9 249.6L1066.9 249.7L1064.9 249.8L1062.8 249.8L1060.8 249.9L1058.8 249.9L1056.8 250L1054.8 250L1052.8 250.1L1050.8 250.2L1048.8 250.2L1046.8 250.3L1044.8 250.3L1042.8 250.4L1040.8 250.4L1038.7 250.5L1036.7 250.5L1034.7 250.6L1032.7 250.6L1030.7 250.7L1028.7 250.7L1026.7 250.8L1024.7 250.8L1022.7 250.9L1020.7 250.9L1018.7 251L1016.7 251L1014.7 251.1L1012.7 251.2L1010.6 251.2L1008.6 251.3L1006.6 251.3L1004.6 251.4L1002.6 251.4L1000.6 251.5L998.6 251.5L996.6 251.6L994.6 251.6L992.6 251.7L990.6 251.8L988.6 251.8L986.6 251.9L984.6 251.9L982.6 252L980.6 252.1L978.6 252.1L976.6 252.2L974.6 252.3L972.5 252.3L970.5 252.4L968.5 252.5L966.5 252.5L964.5 252.6L962.5 252.7L960.5 252.8L958.5 252.8L956.5 252.9L954.5 253L952.5 253.1L950.5 253.1L948.5 253.2L946.5 253.3L944.5 253.4L942.5 253.5L940.5 253.6L938.5 253.7L936.5 253.7L934.5 253.8L932.5 253.9L930.5 254L928.5 254.1L926.5 254.2L924.5 254.3L922.5 254.4L920.5 254.5L918.5 254.7L916.5 254.8L914.5 254.9L912.5 255L910.5 255.1L908.5 255.2L906.5 255.4L904.5 255.5L902.5 255.6L900.6 255.7L898.6 255.9L896.6 256L894.6 256.2L892.6 256.3L890.6 256.5L888.6 256.7L886.6 256.9L884.6 257.1L882.6 257.3L880.6 257.6L878.6 257.8L876.6 258.1L874.6 258.4L872.6 258.7L870.7 259.1L868.7 259.5L866.7 259.9L864.7 260.3L862.7 260.8" fill="none" stroke="#0000ff" stroke-width="2.5" stroke-linejoin="round" stroke-linecap="round"/>
<path d="M861.4 316.2L861.4 314.2L861.4 312.1L861.4 310.1L861.5 308.1L861.5 306L861.6 304L861.7 302L861.8 300L861.9 298L862.1 296L862.2 294.1L862.3 292.1L862.5 290.1L862.7 288.1L862.9 286.1L863.1 284.2L863.3 282.2L863.5 280.2L863.7 278.3L863.9 276.3L864.1 274.3L864.4 272.4L864.6 270.4L864.8 268.5L865.1 266.5L865.3 264.5L865.6 262.6L865.8 260.6L866.1 258.6L866.3 256.6L866.6 254.7L866.8 252.7L867.1 250.7L867.4 248.7L867.6 246.7L867.9 244.8L868.1 242.8L868.4 240.8L868.7 238.8L868.9 236.8L869.2 234.8L869.5 232.8L869.8 230.8L870.1 228.8L870.4 226.8L870.7 224.8L871 222.8L871.4 220.8L871.7 218.8L872 216.9L872.4 214.9L872.8 212.9L873.2 210.9L873.5 208.9L874 206.9L874.4 204.9L874.8 202.9L875.2 201L875.7 199L876.2 197L876.7 195L877.2 193.1L877.7 191.1L878.2 189.2L878.8 187.2L879.4 185.3L880 183.3L880.6 181.4L881.3 179.5L882 177.6L882.7 175.7L883.5 173.9L884.3 172.1L885.2 170.3L886.1 168.6L887.1 166.9L888.2 165.2L889.3 163.6L890.5 162L891.8 160.5L893.1 159L894.5 157.6L896 156.3L897.5 155L899 153.8L900.6 152.6L902.2 151.6L903.8 150.5L905.5 149.6L907.2 148.7L908.9 147.9L910.7 147.1L912.4 146.4L914.2 145.8L916.1 145.1L917.9 144.6L919.8 144.1L921.7 143.6L923.6 143.1L925.5 142.7L927.4 142.4L929.4 142L931.3 141.7L933.3 141.5L935.3 141.2L937.3 141L939.3 140.8L941.3 140.6L943.3 140.4L945.3 140.2L947.3 140.1L949.4 139.9L951.4 139.8L953.4 139.6L955.4 139.5L957.4 139.3L959.5 139.2L961.5 139.1L963.5 138.9L965.5 138.8L967.5 138.7L969.6 138.6L971.6 138.4L973.6 138.3L975.6 138.2L977.6 138.1L979.6 138L981.7 137.9L983.7 137.8L985.7 137.7L987.7 137.6L989.7 137.5L991.7 137.4L993.7 137.3L995.8 137.2L997.8 137.1L999.8 137L1001.8 137L1003.8 136.9L1005.8 136.8L1007.8 136.7L1009.8 136.7L1011.9 136.6L1013.9 136.5L1015.9 136.5L1017.9 136.4L1019.9 136.3L1021.9 136.3L1023.9 136.2L1025.9 136.2L1027.9 136.1L1029.9 136.1L1032 136L1034 136L1036 136L1038 135.9L1040 135.9L1042 135.8L1044 135.8L1046 135.8L1048 135.7L1050 135.7L1052 135.7L1054 135.7L1056 135.7L1058 135.6L1060 135.6L1062 135.6L1064 135.6L1066 135.6L1068 135.6L1070 135.6L1072 135.6L1074.1 135.6L1076.1 135.6L1078.1 135.6L1080.1 135.6L1082.1 135.6L1084.1 135.6L1086.1 135.6L1088.1 135.6L1090.1 135.6L1092.1 135.6L1094.1 135.7L1096.1 135.7L1098.1 135.7L1100.1 135.7L1102.1 135.7L1104.1 135.8L1106.1 135.8L1108.1 135.8L1110.1 135.9L1112 135.9L1114 135.9L1116 136L1118 136L1120 136L1122 136.1L1124 136.1L1126 136.2L1128 136.2L1130 136.2L1132 136.3L1134 136.3L1136 136.4L1138 136.5L1140 136.5L1142 136.6L1144 136.6L1146 136.7L1148 136.7L1150 136.8L1152 136.9L1154 136.9L1156 137L1158 137.1L1160 137.1L1161.9 137.2L1163.9 137.3L1165.9 137.3L1167.9 137.4L1169.9 137.5L1171.9 137.6L1173.9 137.6L1175.9 137.7L1177.9 137.8L1179.9 137.9L1181.9 138L1183.9 138L1185.9 138.1L1187.9 138.2L1189.9 138.3L1191.8 138.4L1193.8 138.5L1195.8 138.6L1197.8 138.7L1199.8 138.7L1201.8 138.8L1203.8 138.9L1205.8 139L1207.8 139.1L1209.8 139.2L1211.8 139.3L1213.8 139.4L1215.7 139.5L1217.7 139.6L1219.7 139.8L1221.7 139.9L1223.7 140L1225.7 140.1L1227.7 140.2L1229.7 140.3L1231.7 140.5L1233.7 140.6L1235.7 140.7L1237.7 140.9L1239.6 141L1241.6 141.1L1243.6 141.3L1245.6 141.4L1247.6 141.6L1249.6 141.7L1251.6 141.9L1253.6 142L1255.6 142.2L1257.6 142.3L1259.6 142.5L1261.5 142.7L1263.5 142.9L1265.5 143L1267.5 143.2L1269.5 143.4L1271.5 143.6L1273.5 143.8L1275.5 144L1277.5 144.2L1279.5 144.4L1281.5 144.6L1283.5 144.8L1285.4 145.1L1287.4 145.3L1289.4 145.5L1291.4 145.7L1293.4 146L1295.4 146.2L1297.4 146.4L1299.4 146.6L1301.4 146.8L1303.4 147L1305.4 147.3L1307.4 147.5L1309.3 147.7L1311.3 147.8L1313.3 148L1315.3 148.2L1317.3 148.4L1319.3 148.5L1321.3 148.7L1323.3 148.8L1325.3 148.9L1327.3 149.1L1329.3 149.2L1331.3 149.3L1333.3 149.4L1335.3 149.4L1337.2 149.5L1339.2 149.6L1341.2 149.6L1343.2 149.6L1345.2 149.7L1347.2 149.7L1349.2 149.7L1351.2 149.7L1353.2 149.7L1355.2 149.6L1357.2 149.6L1359.2 149.5L1361.2 149.5L1363.2 149.4L1365.2 149.3L1367.2 149.3L1369.2 149.2L1371.2 149.1L1373.1 148.9L1375.1 148.8L1377.1 148.7L1379.1 148.5L1381.1 148.4L1383.1 148.2L1385.1 148L1387.1 147.9L1389.1 147.7L1391.1 147.5L1393.1 147.3L1395.1 147L1397.1 146.8L1399.1 146.6L1401.1 146.3L1403.1 146.1L1405.1 145.8L1407.1 145.5L1409.1 145.2L1411.1 144.9L1413.1 144.6L1415.1 144.3L1415.1 146.2L1415.1 148.1L1415 150L1415 152L1414.9 153.9L1414.8 155.9L1414.7 157.9L1414.5 159.9L1414.4 161.9L1414.2 163.9L1414 165.9L1413.8 167.9L1413.6 169.9L1413.4 172L1413.1 174L1412.9 176L1412.6 178.1L1412.3 180.1L1412 182.1L1411.7 184.2L1411.4 186.2L1411.1 188.2L1410.7 190.2L1410.4 192.2L1410 194.2L1409.6 196.2L1409.2 198.2L1408.8 200.2L1408.4 202.2L1408 204.2L1407.6 206.1L1407.1 208L1406.6 210L1406.1 211.9L1405.5 213.7L1404.9 215.6L1404.3 217.5L1403.6 219.3L1402.8 221.1L1402 222.9L1401.1 224.7L1400.2 226.4L1399.2 228.2L1398.1 229.9L1396.9 231.5L1395.7 233.2L1394.4 234.7L1393 236.3L1391.6 237.8L1390.1 239.2L1388.6 240.6L1387 241.9L1385.4 243.2L1383.7 244.3L1382 245.4L1380.3 246.4L1378.5 247.3L1376.7 248.1L1374.8 248.9L1373 249.6L1371.1 250.2L1369.2 250.8L1367.3 251.3L1365.4 251.8L1363.5 252.3L1361.6 252.8L1359.7 253.2L1357.7 253.6L1355.8 254L1353.9 254.4L1351.9 254.8L1350 255.2L1348.1 255.5L1346.1 255.9L1344.2 256.2L1342.2 256.5L1340.3 256.9L1338.3 257.2L1336.4 257.5L1334.4 257.8L1332.4 258.1L1330.5 258.3L1328.5 258.6L1326.5 258.9L1324.6 259.2L1322.6 259.5L1320.6 259.8L1318.7 260.1L1316.7 260.3L1314.7 260.6L1312.8 260.9L1310.8 261.2L1308.8 261.6L1306.8 261.9L1304.9 262.2L1302.9 262.5L1300.9 262.9L1298.9 263.2L1297 263.6L1295 263.9L1293 264.3L1291 264.6L1289.1 265L1287.1 265.4L1285.1 265.7L1283.2 266.1L1281.2 266.5L1279.2 266.9L1277.2 267.3L1275.2 267.6L1273.3 268L1271.3 268.4L1269.3 268.8L1267.3 269.2L1265.4 269.6L1263.4 270L1261.4 270.4L1259.4 270.8L1257.5 271.2L1255.5 271.7L1253.5 272.1L1251.5 272.5L1249.5 272.9L1247.6 273.3L1245.6 273.7L1243.6 274.1L1241.6 274.5L1239.7 274.9L1237.7 275.3L1235.7 275.8L1233.7 276.2L1231.7 276.6L1229.8 277L1227.8 277.4L1225.8 277.8L1223.8 278.2L1221.8 278.6L1219.8 279L1217.9 279.4L1215.9 279.8L1213.9 280.2L1211.9 280.6L1209.9 280.9L1208 281.3L1206 281.7L1204 282.1L1202 282.5L1200 282.8L1198 283.2L1196.1 283.5L1194.1 283.9L1192.1 284.3L1190.1 284.6L1188.1 284.9L1186.1 285.3L1184.2 285.6L1182.2 285.9L1180.2 286.3L1178.2 286.6L1176.2 286.9L1174.2 287.2L1172.3 287.5L1170.3 287.8L1168.3 288.1L1166.3 288.4L1164.3 288.7L1162.3 289L1160.3 289.2L1158.4 289.5L1156.4 289.8L1154.4 290L1152.4 290.3L1150.4 290.6L1148.4 290.8L1146.4 291.1L1144.5 291.3L1142.5 291.6L1140.5 291.8L1138.5 292L1136.5 292.3L1134.5 292.5L1132.5 292.7L1130.5 293L1128.6 293.2L1126.6 293.4L1124.6 293.6L1122.6 293.8L1120.6 294L1118.6 294.2L1116.6 294.4L1114.6 294.6L1112.6 294.8L1110.7 295L1108.7 295.2L1106.7 295.4L1104.7 295.6L1102.7 295.8L1100.7 295.9L1098.7 296.1L1096.7 296.3L1094.7 296.5L1092.7 296.6L1090.8 296.8L1088.8 297L1086.8 297.1L1084.8 297.3L1082.8 297.4L1080.8 297.6L1078.8 297.8L1076.8 297.9L1074.8 298.1L1072.8 298.2L1070.9 298.4L1068.9 298.5L1066.9 298.6L1064.9 298.8L1062.9 298.9L1060.9 299.1L1058.9 299.2L1056.9 299.3L1054.9 299.5L1052.9 299.6L1050.9 299.7L1048.9 299.9L1046.9 300L1045 300.1L1043 300.3L1041 300.4L1039 300.5L1037 300.6L1035 300.8L1033 300.9L1031 301L1029 301.1L1027 301.3L1025 301.4L1023 301.5L1021 301.6L1019 301.7L1017.1 301.9L1015.1 302L1013.1 302.1L1011.1 302.2L1009.1 302.4L1007.1 302.5L1005.1 302.6L1003.1 302.7L1001.1 302.8L999.1 303L997.1 303.1L995.1 303.2L993.1 303.3L991.1 303.5L989.1 303.6L987.1 303.7L985.1 303.9L983.2 304L981.2 304.1L979.2 304.2L977.2 304.4L975.2 304.5L973.2 304.7L971.2 304.8L969.2 304.9L967.2 305.1L965.2 305.2L963.2 305.4L961.2 305.5L959.2 305.6L957.2 305.8L955.2 305.9L953.2 306.1L951.2 306.2L949.2 306.4L947.2 306.6L945.2 306.7L943.2 306.9L941.2 307L939.3 307.2L937.3 307.4L935.3 307.6L933.3 307.7L931.3 307.9L929.3 308.1L927.3 308.3L925.3 308.5L923.3 308.6L921.3 308.8L919.3 309L917.3 309.2L915.3 309.4L913.3 309.6L911.3 309.8L909.3 310L907.3 310.3L905.3 310.5L903.3 310.7L901.3 310.9L899.3 311.1L897.3 311.4L895.3 311.6L893.3 311.8L891.3 312.1L889.3 312.3L887.4 312.6L885.4 312.8L883.4 313.1L881.4 313.3L879.4 313.6L877.4 313.9L875.4 314.2L873.4 314.4L871.4 314.7L869.4 315L867.4 315.3L865.4 315.6L863.4 315.9L861.4 316.2" fill="none" stroke="#ff00ff" stroke-width="2.5" stroke-linejoin="round" stroke-linecap="round"/>
<path d="M862.9 371.6L863 369.6L863.1 367.6L863.3 365.6L863.4 363.6L863.5 361.6L863.7 359.6L863.8 357.6L864 355.6L864.1 353.6L864.3 351.6L864.4 349.6L864.6 347.6L864.7 345.6L864.9 343.6L865.1 341.6L865.3 339.6L865.4 337.6L865.6 335.6L865.8 333.6L866 331.6L866.2 329.6L866.4 327.6L866.6 325.6L866.8 323.6L867 321.6L867.2 319.6L867.4 317.6L867.7 315.6L867.9 313.7L868.1 311.7L868.3 309.7L868.6 307.7L868.8 305.7L869 303.7L869.3 301.7L869.5 299.7L869.7 297.8L870 295.8L870.2 293.8L870.5 291.8L870.8 289.8L871 287.8L871.3 285.8L871.5 283.9L871.8 281.9L872.1 279.9L872.3 277.9L872.6 275.9L872.9 274L873.2 272L873.5 270L873.7 268L874 266L874.3 264.1L874.6 262.1L874.9 260.1L875.2 258.1L875.5 256.1L875.8 254.2L876.1 252.2L876.4 250.2L876.7 248.2L877 246.2L877.3 244.3L877.6 242.3L877.9 240.3L878.2 238.3L878.6 236.4L878.9 234.4L879.2 232.4L879.5 230.4L879.8 228.5L880.2 226.5L880.5 224.5L880.8 222.5L881.1 220.6L881.5 218.6L881.8 216.6L882.1 214.6L882.5 212.7L882.8 210.7L883.1 208.7L883.5 206.7L883.8 204.8L884.2 202.8L884.5 200.8L884.8 198.8L885.2 196.9L885.5 194.9L885.9 192.9L886.2 190.9L886.6 189L887 187L887.3 185L887.7 183.1L888.1 181.1L888.5 179.1L888.8 177.1L889.2 175.2L889.7 173.2L890.1 171.3L890.5 169.3L890.9 167.3L891.4 165.4L891.8 163.4L892.3 161.5L892.8 159.5L893.3 157.6L893.8 155.6L894.4 153.7L894.9 151.7L895.5 149.8L896 147.8L896.6 145.9L897.3 144L897.9 142L898.5 140.1L899.2 138.2L899.9 136.3L900.6 134.4L901.4 132.4L902.1 130.5L902.9 128.6L903.7 126.8L904.5 124.9L905.4 123L906.2 121.2L907.1 119.4L908.1 117.6L909 115.8L910 114L911 112.2L912 110.5L913.1 108.8L914.2 107.1L915.3 105.5L916.4 103.9L917.6 102.3L918.8 100.7L920 99.2L921.3 97.7L922.6 96.2L923.9 94.8L925.3 93.4L926.7 92.1L928.1 90.8L929.6 89.5L931.1 88.3L932.6 87.1L934.1 86L935.7 84.9L937.3 83.8L939 82.8L940.6 81.8L942.3 80.8L944.1 79.9L945.8 79L947.6 78.2L949.4 77.3L951.2 76.6L953 75.8L954.9 75.1L956.7 74.4L958.6 73.7L960.5 73.1L962.4 72.4L964.4 71.8L966.3 71.3L968.3 70.7L970.2 70.2L972.2 69.7L974.2 69.2L976.2 68.8L978.2 68.3L980.2 67.9L982.2 67.5L984.2 67.1L986.2 66.8L988.2 66.4L990.2 66.1L992.2 65.7L994.3 65.4L996.3 65.1L998.3 64.8L1000.3 64.6L1002.3 64.3L1004.3 64.1L1006.3 63.8L1008.4 63.6L1010.4 63.4L1012.4 63.2L1014.4 63L1016.4 62.8L1018.4 62.7L1020.4 62.5L1022.4 62.4L1024.4 62.2L1026.5 62.1L1028.5 62L1030.5 61.9L1032.5 61.8L1034.5 61.7L1036.5 61.6L1038.5 61.5L1040.5 61.4L1042.5 61.4L1044.5 61.3L1046.5 61.3L1048.5 61.2L1050.5 61.2L1052.5 61.2L1054.6 61.2L1056.6 61.2L1058.6 61.2L1060.6 61.2L1062.6 61.2L1064.6 61.2L1066.6 61.2L1068.6 61.2L1070.6 61.2L1072.6 61.3L1074.6 61.3L1076.6 61.3L1078.6 61.4L1080.6 61.4L1082.6 61.5L1084.6 61.5L1086.6 61.6L1088.6 61.6L1090.6 61.7L1092.6 61.7L1094.6 61.8L1096.6 61.9L1098.6 61.9L1100.6 62L1102.6 62.1L1104.6 62.1L1106.6 62.2L1108.6 62.2L1110.6 62.3L1112.6 62.4L1114.6 62.4L1116.6 62.5L1118.6 62.6L1120.6 62.6L1122.6 62.7L1124.6 62.8L1126.6 62.8L1128.6 62.9L1130.6 63L1132.6 63.1L1134.5 63.1L1136.5 63.2L1138.5 63.3L1140.5 63.4L1142.5 63.4L1144.5 63.5L1146.5 63.6L1148.5 63.7L1150.5 63.7L1152.5 63.8L1154.5 63.9L1156.5 64L1158.5 64.1L1160.5 64.2L1162.5 64.3L1164.5 64.4L1166.5 64.5L1168.5 64.6L1170.5 64.7L1172.4 64.8L1174.4 64.9L1176.4 65L1178.4 65.1L1180.4 65.2L1182.4 65.3L1184.4 65.4L1186.4 65.6L1188.4 65.7L1190.4 65.8L1192.4 66L1194.4 66.1L1196.4 66.2L1198.4 66.4L1200.3 66.5L1202.3 66.7L1204.3 66.8L1206.3 67L1208.3 67.1L1210.3 67.3L1212.3 67.5L1214.3 67.6L1216.3 67.8L1218.3 68L1220.3 68.2L1222.3 68.4L1224.2 68.6L1226.2 68.8L1228.2 69L1230.2 69.2L1232.2 69.4L1234.2 69.6L1236.2 69.8L1238.2 70L1240.2 70.3L1242.2 70.5L1244.1 70.7L1246.1 71L1248.1 71.2L1250.1 71.5L1252.1 71.8L1254.1 72L1256.1 72.3L1258.1 72.6L1260.1 72.9L1262.1 73.2L1264 73.5L1266 73.8L1268 74.1L1270 74.4L1272 74.7L1274 75L1276 75.4L1278 75.7L1280 76.1L1281.9 76.4L1283.9 76.8L1285.9 77.1L1287.9 77.5L1289.9 77.9L1291.9 78.3L1293.9 78.6L1295.9 79L1297.8 79.4L1299.8 79.8L1301.8 80.2L1303.8 80.6L1305.8 80.9L1307.8 81.3L1309.8 81.7L1311.8 82.1L1313.7 82.5L1315.7 82.9L1317.7 83.2L1319.7 83.6L1321.7 84L1323.7 84.3L1325.7 84.7L1327.7 85L1329.6 85.4L1331.6 85.7L1333.6 86L1335.6 86.4L1337.6 86.7L1339.6 87L1341.6 87.3L1343.6 87.6L1345.5 87.8L1347.5 88.1L1349.5 88.3L1351.5 88.6L1353.5 88.8L1355.5 89L1357.5 89.2L1359.5 89.4L1361.4 89.6L1363.4 89.7L1365.4 89.9L1367.4 90L1369.4 90.1L1371.4 90.2L1373.4 90.2L1375.4 90.3L1377.3 90.3L1379.3 90.3L1381.3 90.3L1383.3 90.3L1385.3 90.2L1387.3 90.2L1389.3 90.1L1391.3 90L1393.2 89.8L1395.2 89.7L1397.2 89.5L1399.2 89.3L1401.2 89L1403.2 88.8L1405.2 88.5L1407.2 88.1L1409.1 87.8L1411.1 87.4L1413.1 87L1415.1 86.6L1415.2 88.6L1415.2 90.6L1415.3 92.6L1415.3 94.6L1415.3 96.6L1415.2 98.6L1415.2 100.6L1415.1 102.6L1415 104.6L1414.9 106.6L1414.8 108.6L1414.7 110.6L1414.6 112.6L1414.4 114.6L1414.2 116.6L1414 118.6L1413.8 120.5L1413.6 122.5L1413.4 124.5L1413.2 126.5L1412.9 128.5L1412.6 130.5L1412.4 132.5L1412.1 134.4L1411.8 136.4L1411.5 138.4L1411.2 140.4L1410.8 142.4L1410.5 144.4L1410.2 146.3L1409.8 148.3L1409.5 150.3L1409.1 152.3L1408.7 154.2L1408.4 156.2L1408 158.2L1407.6 160.1L1407.2 162.1L1406.8 164.1L1406.4 166L1406 168L1405.6 170L1405.2 171.9L1404.8 173.9L1404.4 175.9L1404 177.8L1403.5 179.8L1403.1 181.7L1402.7 183.7L1402.3 185.6L1401.9 187.6L1401.5 189.5L1401 191.5L1400.6 193.4L1400.2 195.4L1399.7 197.3L1399.3 199.3L1398.8 201.2L1398.4 203.2L1397.9 205.1L1397.4 207.1L1396.9 209L1396.4 210.9L1395.9 212.9L1395.4 214.8L1394.9 216.7L1394.4 218.7L1393.8 220.6L1393.2 222.5L1392.7 224.5L1392.1 226.4L1391.5 228.3L1390.8 230.2L1390.2 232.2L1389.5 234.1L1388.8 236L1388.1 237.9L1387.4 239.8L1386.7 241.6L1385.9 243.5L1385.1 245.3L1384.3 247.2L1383.4 249L1382.5 250.8L1381.6 252.6L1380.7 254.4L1379.7 256.1L1378.7 257.8L1377.7 259.5L1376.6 261.2L1375.5 262.9L1374.4 264.5L1373.2 266.1L1372 267.6L1370.7 269.2L1369.4 270.7L1368.1 272.2L1366.7 273.6L1365.3 275L1363.9 276.4L1362.4 277.7L1360.9 279.1L1359.4 280.3L1357.8 281.6L1356.2 282.8L1354.6 284L1353 285.1L1351.3 286.2L1349.6 287.3L1347.8 288.3L1346 289.3L1344.3 290.3L1342.4 291.2L1340.6 292.1L1338.8 292.9L1336.9 293.8L1335.1 294.6L1333.2 295.3L1331.3 296.1L1329.5 296.8L1327.6 297.5L1325.7 298.2L1323.9 298.9L1322 299.5L1320.1 300.1L1318.3 300.8L1316.4 301.4L1314.5 302L1312.7 302.6L1310.8 303.2L1308.9 303.8L1307.1 304.3L1305.2 304.9L1303.3 305.5L1301.4 306.1L1299.6 306.7L1297.7 307.4L1295.8 308L1293.9 308.6L1292.1 309.3L1290.2 309.9L1288.3 310.6L1286.4 311.2L1284.6 311.9L1282.7 312.6L1280.8 313.2L1278.9 313.9L1277.1 314.6L1275.2 315.3L1273.3 316L1271.4 316.7L1269.5 317.4L1267.6 318.1L1265.8 318.8L1263.9 319.6L1262 320.3L1260.1 321L1258.2 321.7L1256.3 322.4L1254.5 323.1L1252.6 323.8L1250.7 324.6L1248.8 325.3L1246.9 326L1245 326.7L1243.1 327.4L1241.2 328.1L1239.3 328.8L1237.4 329.5L1235.6 330.2L1233.7 330.9L1231.8 331.6L1229.9 332.2L1228 332.9L1226.1 333.6L1224.2 334.3L1222.3 334.9L1220.4 335.6L1218.5 336.2L1216.6 336.9L1214.7 337.5L1212.8 338.2L1210.9 338.8L1209 339.4L1207.1 340.1L1205.2 340.7L1203.3 341.3L1201.4 341.9L1199.5 342.6L1197.6 343.2L1195.6 343.8L1193.7 344.4L1191.8 345L1189.9 345.6L1188 346.2L1186.1 346.8L1184.2 347.3L1182.3 347.9L1180.4 348.5L1178.4 349.1L1176.5 349.6L1174.6 350.2L1172.7 350.8L1170.8 351.3L1168.8 351.9L1166.9 352.4L1165 353L1163.1 353.5L1161.2 354.1L1159.2 354.6L1157.3 355.2L1155.4 355.7L1153.5 356.2L1151.5 356.8L1149.6 357.3L1147.7 357.8L1145.8 358.3L1143.8 358.8L1141.9 359.4L1140 359.9L1138 360.4L1136.1 360.9L1134.2 361.4L1132.2 361.9L1130.3 362.4L1128.3 362.9L1126.4 363.3L1124.5 363.8L1122.5 364.3L1120.6 364.8L1118.6 365.3L1116.7 365.8L1114.8 366.2L1112.8 366.7L1110.9 367.2L1108.9 367.6L1107 368.1L1105 368.6L1103.1 369L1101.1 369.5L1099.2 369.9L1097.2 370.4L1095.3 370.8L1093.3 371.3L1091.4 371.7L1089.4 372.2L1087.4 372.6L1085.5 373L1083.5 373.4L1081.6 373.9L1079.6 374.3L1077.6 374.7L1075.7 375.1L1073.7 375.5L1071.8 376L1069.8 376.4L1067.8 376.8L1065.9 377.2L1063.9 377.6L1061.9 378L1060 378.3L1058 378.7L1056 379.1L1054.1 379.5L1052.1 379.9L1050.1 380.2L1048.1 380.6L1046.2 381L1044.2 381.3L1042.2 381.7L1040.3 382.1L1038.3 382.4L1036.3 382.8L1034.3 383.1L1032.4 383.4L1030.4 383.8L1028.4 384.1L1026.4 384.4L1024.4 384.8L1022.5 385.1L1020.5 385.4L1018.5 385.7L1016.5 386L1014.5 386.3L1012.6 386.6L1010.6 386.9L1008.6 387.2L1006.6 387.5L1004.6 387.8L1002.7 388.1L1000.7 388.3L998.7 388.6L996.7 388.9L994.7 389.1L992.7 389.4L990.7 389.6L988.8 389.9L986.8 390.1L984.8 390.4L982.8 390.6L980.8 390.8L978.8 391.1L976.8 391.3L974.9 391.5L972.9 391.7L970.9 391.9L968.9 392.2L966.9 392.4L964.9 392.6L962.9 392.8L960.9 393L958.9 393.2L957 393.4L955 393.6L953 393.8L951 394L949 394.1L947 394.3L945 394.5L943 394.7L941 394.9L939 395.1L937 395.3L935.1 395.5L933.1 395.7L931.1 395.8L929.1 396L927.1 396.2L925.1 396.4L923.1 396.6L921.1 396.8L919.1 397L917.1 397.2L915.1 397.4L913.1 397.6L911.2 397.8L909.2 398L907.2 398.2L905.2 398.4L903.2 398.6L901.2 398.8L899.2 399L897.2 399.2L895.2 399.4L893.2 399.7L891.2 399.9L889.3 400.1L887.3 400.3L885.3 400.6L883.3 400.8L881.3 401.1L879.3 401.3L877.3 401.6L875.3 401.8L873.3 402.1L871.3 402.4L869.4 402.6L867.4 402.9L865.4 403.2L863.4 403.5L861.4 403.8" fill="none" stroke="#008000" stroke-width="2.5" stroke-linejoin="round" stroke-linecap="round"/>
<path d="M861.4 403.8L861.8 401.8L862 399.8L862.2 397.8L862.3 395.8L862.4 393.8L862.4 391.7L862.4 389.7L862.4 387.7L862.4 385.6L862.5 383.6L862.6 381.6" fill="none" stroke="#008000" stroke-width="2.5" stroke-linejoin="round" stroke-linecap="round"/>
<path d="M68.8 1013.3L73.1 1011.2L75.8 1008.2L78.5 1005.2L81.2 1002.2L83.8 999.2L86.5 996.1L89.2 993.1L91.9 990.1L94.6 987.1L97.2 984.1L99.9 981.1L102.6 978.1L105.3 975.1L107.9 972.1L110.6 969L113.3 966L115.9 963L118.6 960L121.3 957L124 954L126.6 951L129.3 948L132 945L134.6 941.9L137.3 938.9L140 935.9L142.7 932.9L145.3 929.9L148 926.9L150.7 923.9L153.4 920.9L156 917.9L158.7 914.8L161.4 911.8L164.1 908.8L166.7 905.8L169.4 902.8L172.1 899.8L174.8 896.8L177.5 893.8L180.1 890.8L182.8 887.7L185.5 884.7L188.2 881.7L190.9 878.7L193.6 875.7L196.3 872.7L198.9 869.7L201.6 866.7L204.3 863.7L207 860.6L209.6 857.6L212.3 854.6L215 851.6L217.6 848.6L220.2 845.6L222.8 842.6L225.4 839.6L228 836.6L230.6 833.5L233.1 830.5L235.6 827.5L238.1 824.5L240.6 821.5L243.1 818.5L245.5 815.5L247.9 812.5L250.3 809.5L252.6 806.5L254.9 803.4L257.2 800.4L259.5 797.4L261.7 794.4L263.9 791.4L266 788.4L268.2 785.4L270.2 782.4L272.3 779.4L274.4 776.3L276.4 773.3L278.4 770.3L280.3 767.3L282.3 764.3L284.2 761.3L286.1 758.3L288 755.3L289.8 752.3L291.7 749.2L293.5 746.2L295.3 743.2L297.1 740.2L298.9 737.2L300.6 734.2L302.4 731.2L304.1 728.2L305.8 725.2L307.5 722.1L309.2 719.1L310.9 716.1L312.6 713.1L314.2 710.1L315.9 707.1L317.6 704.1L319.2 701.1L320.8 698.1L322.5 695L324.1 692L325.8 689L327.4 686L329 683L330.7 680L332.3 677L334 674L335.6 671L337.3 667.9L338.9 664.9L340.6 661.9L342.2 658.9L343.9 655.9L345.6 652.9L347.3 649.9L349 646.9L350.7 643.9L352.4 640.8L354.2 637.8L355.9 634.8L357.7 631.8L359.5 628.8L359.5 643.8L365.5 644.6L366.3 647.6L367.1 650.6L367.9 653.7L368.7 656.7L369.5 659.7L370.3 662.7L371 665.8L371.8 668.8L372.6 671.8L373.4 674.8L374.2 677.8L375 680.9L375.8 683.9L376.6 686.9L377.4 689.9L378.3 692.9L379.1 696L380 699L380.9 702L381.9 705L382.8 708.1L383.8 711.1L384.8 714.1L385.9 717.1L387 720.1L388.1 723.2L389.2 726.2L390.4 729.2L391.7 732.2L392.9 735.3L394.3 738.3L395.6 741.3L397.1 744.3L398.5 747.3L400.1 750.4L401.6 753.4L403.3 756.4L404.9 759.4L406.7 762.4L408.4 765.5L410.3 768.5L412.1 771.5L414.1 774.5L416 777.6L418 780.6L420.1 783.6L422.2 786.6L424.4 789.6L426.6 792.7L428.9 795.7L431.2 798.7L433.5 801.7L435.9 804.8L438.4 807.8L440.9 810.8L443.4 813.8L446 816.8L448.6 819.9L451.3 822.9L454 825.9L456.8 828.9L459.6 832L462.5 835L465.4 838L468.4 841L471.4 844L474.4 847.1L477.5 850.1L480.7 853.1L483.8 856.1L487.1 859.1L490.3 862.2L493.7 865.2L497 868.2L500.4 871.2L503.9 874.3L507.4 877.3L510.9 880.3L514.5 883.3L518.1 886.3L521.8 889.4L525.5 892.4L529.2 895.4L533 898.4L536.8 901.5L540.6 904.5L544.5 907.5L548.4 910.5L552.3 913.5L556.2 916.6L560.2 919.6L564.1 922.6L568.1 925.6L572 928.6L576 931.7L579.9 934.7L583.9 937.7L587.8 940.7L591.7 943.8L595.7 946.8L599.6 949.8L603.6 952.8L607.6 955.8L611.6 958.9L615.7 961.9L619.8 964.9L624 967.9L628.4 971L632.8 974L637.3 977L641.9 980L646.6 983L651.5 986.1L656.5 989.1L661.7 992.1L667 995.1L672.4 998.1L678.1 1001.2L683.9 1004.2L689.9 1007.2L696.1 1010.2L702.5 1013.3L709.2 1016.3L716 1019.3" fill="none" stroke="#000000" stroke-width="2.5" stroke-linejoin="round" stroke-linecap="round"/>
<path d="M67.7 1009L72 1007.9L73.4 1004.9L74.9 1001.9L76.4 998.9L77.8 995.8L79.3 992.8L80.7 989.8L82.2 986.8L83.6 983.8L85.1 980.8L86.5 977.7L88 974.7L89.4 971.7L90.9 968.7L92.3 965.7L93.8 962.6L95.2 959.6L96.7 956.6L98.1 953.6L99.6 950.6L101 947.6L102.4 944.5L103.9 941.5L105.3 938.5L106.7 935.5L108.2 932.5L109.6 929.5L111 926.4L112.4 923.4L113.9 920.4L115.3 917.4L116.7 914.4L118.1 911.4L119.5 908.3L120.9 905.3L122.3 902.3L123.7 899.3L125.1 896.3L126.5 893.3L127.9 890.2L129.2 887.2L130.6 884.2L132 881.2L133.3 878.2L134.7 875.2L136 872.1L137.4 869.1L138.7 866.1L140.1 863.1L141.4 860.1L142.7 857.1L144.1 854L145.4 851L146.7 848L148 845L149.3 842L150.6 839L151.9 835.9L153.1 832.9L154.4 829.9L155.7 826.9L156.9 823.9L158.2 820.9L159.4 817.8L160.6 814.8L161.9 811.8L163.1 808.8L164.3 805.8L165.5 802.8L166.7 799.8L167.9 796.7L169.1 793.7L170.2 790.7L171.4 787.7L172.5 784.7L173.7 781.6L174.8 778.6L175.9 775.6L177 772.6L178.2 769.6L179.2 766.6L180.3 763.5L181.4 760.5L182.5 757.5L183.5 754.5L184.6 751.5L185.6 748.5L186.6 745.4L187.7 742.4L188.7 739.4L189.6 736.4L190.6 733.4L191.6 730.4L192.6 727.3L193.5 724.3L194.4 721.3L195.4 718.3L196.3 715.3L197.2 712.3L198.1 709.2L198.9 706.2L199.8 703.2L200.7 700.2L201.5 697.2L202.3 694.2L203.1 691.1L203.9 688.1L204.7 685.1L205.5 682.1L206.3 679.1L207 676.1L207.7 673L208.5 670L209.2 667L209.8 664L210.5 661L211.2 658L211.8 654.9L212.5 651.9L213.1 648.9L213.7 645.9L214.3 642.9L214.9 639.9L215.4 636.8L216 633.8L216.5 630.8L217 627.8L217.4 630.8L217.9 633.8L218.3 636.8L218.8 639.8L219.2 642.8L219.6 645.8L220.1 648.8L220.5 651.9L221 654.9L221.4 657.9L221.9 660.9L222.3 663.9L222.8 666.9L223.3 669.9L223.8 672.9L224.2 675.9L224.7 678.9L225.2 681.9L225.7 684.9L226.2 687.9L226.8 690.9L227.3 694L227.9 697L228.4 700L229 703L229.6 706L230.2 709L230.8 712L231.4 715L232 718L232.7 721L233.3 724L234 727L234.7 730L235.4 733L236.1 736L236.9 739.1L237.6 742.1L238.4 745.1L239.2 748.1L240 751.1L240.8 754.1L241.7 757.1L242.5 760.1L243.4 763.1L244.3 766.1L245.2 769.1L246.1 772.1L247 775.1L248 778.1L249 781.2L250 784.2L251 787.2L252 790.2L253 793.2L254.1 796.2L255.1 799.2L256.2 802.2L257.3 805.2L258.5 808.2L259.6 811.2L260.8 814.2L261.9 817.2L263.1 820.2L264.4 823.2L265.6 826.3L266.8 829.3L268.1 832.3L269.4 835.3L270.7 838.3L272 841.3L273.3 844.3L274.7 847.3L276.1 850.3L277.5 853.3L278.9 856.3L280.3 859.3L281.7 862.3L283.2 865.3L284.7 868.4L286.2 871.4L287.7 874.4L289.3 877.4L290.8 880.4L292.4 883.4L294 886.4L295.6 889.4L297.2 892.4L298.9 895.4L300.6 898.4L302.2 901.4L303.9 904.4L305.7 907.4L307.4 910.5L309.2 913.5L311 916.5L312.8 919.5L314.6 922.5L316.4 925.5L318.3 928.5L320.2 931.5L322.1 934.5L324 937.5L325.9 940.5L327.9 943.5L329.9 946.5L331.8 949.5L333.9 952.5L335.9 955.6L337.9 958.6L340 961.6L342.1 964.6L344.2 967.6L346.4 970.6L348.5 973.6L350.7 976.6L352.9 979.6L355.1 982.6L357.3 985.6L359.6 988.6L361.8 991.6L364.1 994.6L366.4 997.7L368.8 1000.7L371.1 1003.7L373.5 1006.7L375.9 1009.7L378.3 1012.7L380.7 1015.7L383.2 1018.7" fill="none" stroke="#ff0000" stroke-width="2.5" stroke-linejoin="round" stroke-linecap="round"/>
<path d="M67.7 1002.4L73.1 1001.3L73.9 998.3L74.6 995.3L75.4 992.3L76.2 989.2L76.9 986.2L77.7 983.2L78.5 980.2L79.2 977.2L80 974.2L80.7 971.2L81.5 968.1L82.2 965.1L83 962.1L83.7 959.1L84.4 956.1L85.2 953.1L85.9 950.1L86.6 947L87.4 944L88.1 941L88.8 938L89.5 935L90.2 932L91 929L91.7 925.9L92.4 922.9L93.1 919.9L93.8 916.9L94.5 913.9L95.2 910.9L95.9 907.8L96.6 904.8L97.3 901.8L97.9 898.8L98.6 895.8L99.3 892.8L100 889.8L100.6 886.7L101.3 883.7L102 880.7L102.6 877.7L103.3 874.7L104 871.7L104.6 868.7L105.3 865.6L105.9 862.6L106.6 859.6L107.2 856.6L107.8 853.6L108.5 850.6L109.1 847.6L109.7 844.5L110.3 841.5L111 838.5L111.6 835.5L112.2 832.5L112.8 829.5L113.4 826.5L114 823.4L114.6 820.4L115.2 817.4L115.8 814.4L116.4 811.4L117 808.4L117.6 805.4L118.1 802.3L118.7 799.3L119.3 796.3L119.8 793.3L120.4 790.3L121 787.3L121.5 784.3L122.1 781.2L122.6 778.2L123.2 775.2L123.7 772.2L124.2 769.2L124.8 766.2L125.3 763.2L125.8 760.1L126.3 757.1L126.9 754.1L127.4 751.1L127.9 748.1L128.4 745.1L128.9 742.1L129.4 739L129.9 736L130.3 733L130.8 730L131.3 727L131.8 724L132.3 721L132.7 717.9L133.2 714.9L133.6 711.9L134.1 708.9L134.5 705.9L135 702.9L135.4 699.8L135.9 696.8L136.3 693.8L136.7 690.8L137.1 687.8L137.6 684.8L138 681.8L138.4 678.7L138.8 675.7L139.2 672.7L139.6 669.7L140 666.7L140.3 663.7L140.7 660.7L141.1 657.6L141.5 654.6L141.8 651.6L142.2 648.6L142.6 645.6L142.9 642.6L143.3 639.6L143.6 636.5L143.9 633.5L144.3 630.5L144.6 627.5L144.8 630.5L144.9 633.5L145.1 636.6L145.3 639.6L145.4 642.6L145.6 645.6L145.8 648.6L146 651.6L146.2 654.7L146.4 657.7L146.6 660.7L146.9 663.7L147.1 666.7L147.3 669.8L147.6 672.8L147.8 675.8L148.1 678.8L148.3 681.8L148.6 684.9L148.9 687.9L149.1 690.9L149.4 693.9L149.7 696.9L150 699.9L150.3 703L150.6 706L150.9 709L151.3 712L151.6 715L152 718.1L152.3 721.1L152.7 724.1L153 727.1L153.4 730.1L153.8 733.1L154.2 736.2L154.6 739.2L155 742.2L155.4 745.2L155.8 748.2L156.3 751.3L156.7 754.3L157.2 757.3L157.6 760.3L158.1 763.3L158.6 766.3L159.1 769.4L159.6 772.4L160.1 775.4L160.6 778.4L161.1 781.4L161.7 784.5L162.2 787.5L162.8 790.5L163.4 793.5L163.9 796.5L164.5 799.6L165.1 802.6L165.7 805.6L166.4 808.6L167 811.6L167.6 814.6L168.3 817.7L169 820.7L169.6 823.7L170.3 826.7L171 829.7L171.7 832.8L172.4 835.8L173.1 838.8L173.9 841.8L174.6 844.8L175.3 847.8L176.1 850.9L176.9 853.9L177.6 856.9L178.4 859.9L179.2 862.9L180 866L180.8 869L181.6 872L182.4 875L183.2 878L184 881.1L184.8 884.1L185.7 887.1L186.5 890.1L187.4 893.1L188.2 896.1L189.1 899.2L189.9 902.2L190.8 905.2L191.7 908.2L192.5 911.2L193.4 914.3L194.3 917.3L195.2 920.3L196.1 923.3L197 926.3L197.9 929.3L198.8 932.4L199.7 935.4L200.6 938.4L201.5 941.4L202.4 944.4L203.3 947.5L204.2 950.5L205.1 953.5L206 956.5L207 959.5L207.9 962.5L208.8 965.6L209.7 968.6L210.6 971.6L211.6 974.6L212.5 977.6L213.4 980.7L214.3 983.7L215.2 986.7L216.2 989.7L217.1 992.7L218 995.8L218.9 998.8L219.8 1001.8L220.8 1004.8L221.7 1007.8L222.6 1010.8L223.5 1013.9L224.4 1016.9L225.3 1019.9" fill="none" stroke="#0000ff" stroke-width="2.5" stroke-linejoin="round" stroke-linecap="round"/>
<path d="M67.7 990.4L72 989.3L72.4 986.3L72.7 983.3L73.1 980.2L73.4 977.2L73.8 974.2L74.2 971.2L74.5 968.1L74.8 965.1L75.2 962.1L75.5 959.1L75.9 956L76.2 953L76.5 950L76.8 947L77.2 944L77.5 940.9L77.8 937.9L78.1 934.9L78.4 931.9L78.7 928.8L79 925.8L79.3 922.8L79.6 919.8L79.9 916.7L80.2 913.7L80.5 910.7L80.8 907.7L81.1 904.7L81.4 901.6L81.6 898.6L81.9 895.6L82.2 892.6L82.5 889.5L82.7 886.5L83 883.5L83.3 880.5L83.5 877.4L83.8 874.4L84.1 871.4L84.3 868.4L84.6 865.4L84.8 862.3L85.1 859.3L85.3 856.3L85.6 853.3L85.8 850.2L86 847.2L86.3 844.2L86.5 841.2L86.8 838.1L87 835.1L87.2 832.1L87.4 829.1L87.7 826.1L87.9 823L88.1 820L88.3 817L88.6 814L88.8 810.9L89 807.9L89.2 804.9L89.4 801.9L89.6 798.8L89.9 795.8L90.1 792.8L90.3 789.8L90.5 786.7L90.7 783.7L90.9 780.7L91.1 777.7L91.3 774.7L91.5 771.6L91.7 768.6L91.9 765.6L92.1 762.6L92.3 759.5L92.5 756.5L92.6 753.5L92.8 750.5L93 747.4L93.2 744.4L93.4 741.4L93.6 738.4L93.8 735.4L94 732.3L94.1 729.3L94.3 726.3L94.5 723.3L94.7 720.2L94.9 717.2L95 714.2L95.2 711.2L95.4 708.1L95.6 705.1L95.7 702.1L95.9 699.1L96.1 696.1L96.3 693L96.4 690L96.6 687L96.8 684L97 680.9L97.1 677.9L97.3 674.9L97.5 671.9L97.7 668.8L97.8 665.8L98 662.8L98.2 659.8L98.3 656.8L98.5 653.7L98.7 650.7L98.8 647.7L99 644.7L99.2 641.6L99.4 638.6L99.5 635.6L99.7 632.6L99.9 629.5L100 626.5L100.2 623.5L100.2 626.5L100.3 629.5L100.3 632.5L100.4 635.5L100.4 638.5L100.5 641.5L100.5 644.5L100.6 647.5L100.7 650.5L100.8 653.5L100.8 656.5L100.9 659.5L101 662.5L101.1 665.5L101.2 668.5L101.3 671.5L101.4 674.6L101.6 677.6L101.7 680.6L101.8 683.6L101.9 686.6L102.1 689.6L102.2 692.6L102.3 695.6L102.5 698.6L102.6 701.6L102.8 704.6L102.9 707.6L103.1 710.6L103.3 713.6L103.4 716.6L103.6 719.6L103.8 722.6L103.9 725.6L104.1 728.6L104.3 731.6L104.5 734.6L104.7 737.6L104.9 740.6L105.1 743.6L105.3 746.6L105.5 749.6L105.7 752.6L105.9 755.6L106.2 758.6L106.4 761.6L106.6 764.6L106.8 767.6L107.1 770.6L107.3 773.7L107.5 776.7L107.8 779.7L108 782.7L108.3 785.7L108.5 788.7L108.8 791.7L109 794.7L109.3 797.7L109.5 800.7L109.8 803.7L110.1 806.7L110.3 809.7L110.6 812.7L110.9 815.7L111.2 818.7L111.4 821.7L111.7 824.7L112 827.7L112.3 830.7L112.6 833.7L112.9 836.7L113.2 839.7L113.4 842.7L113.7 845.7L114 848.7L114.3 851.7L114.7 854.7L115 857.7L115.3 860.7L115.6 863.7L115.9 866.7L116.2 869.7L116.5 872.8L116.8 875.8L117.2 878.8L117.5 881.8L117.8 884.8L118.1 887.8L118.4 890.8L118.8 893.8L119.1 896.8L119.4 899.8L119.8 902.8L120.1 905.8L120.4 908.8L120.8 911.8L121.1 914.8L121.4 917.8L121.8 920.8L122.1 923.8L122.5 926.8L122.8 929.8L123.1 932.8L123.5 935.8L123.8 938.8L124.2 941.8L124.5 944.8L124.9 947.8L125.2 950.8L125.6 953.8L125.9 956.8L126.3 959.8L126.6 962.8L127 965.8L127.3 968.8L127.7 971.9L128.1 974.9L128.4 977.9L128.8 980.9L129.1 983.9L129.5 986.9L129.8 989.9L130.2 992.9L130.5 995.9L130.9 998.9L131.3 1001.9L131.6 1004.9L132 1007.9L132.3 1010.9L132.7 1013.9L133 1016.9L133.4 1019.9" fill="none" stroke="#ff00ff" stroke-width="2.5" stroke-linejoin="round" stroke-linecap="round"/>
<path d="M67.7 953.1L72 952L72.1 949L72.2 946L72.3 943L72.4 940L72.5 937L72.6 934L72.7 931L72.8 928L72.9 925L73 922L73.1 919L73.2 916L73.4 913L73.5 910L73.6 907L73.7 904L73.9 901L74 898L74.1 895L74.3 892L74.4 889L74.5 886L74.7 883L74.8 880L75 877L75.1 874L75.3 871L75.4 867.9L75.6 864.9L75.7 861.9L75.9 858.9L76 855.9L76.2 852.9L76.3 849.9L76.5 846.9L76.6 843.9L76.8 840.9L76.9 837.9L77.1 834.9L77.3 831.9L77.4 828.9L77.6 825.9L77.7 822.9L77.9 819.9L78.1 816.9L78.2 813.9L78.4 810.9L78.5 807.9L78.7 804.9L78.8 801.9L79 798.9L79.2 795.9L79.3 792.9L79.5 789.9L79.6 786.9L79.8 783.9L79.9 780.9L80.1 777.9L80.2 774.9L80.4 771.9L80.5 768.9L80.7 765.9L80.8 762.9L81 759.9L81.1 756.9L81.3 753.9L81.4 750.9L81.6 747.9L81.7 744.9L81.8 741.9L82 738.9L82.1 735.9L82.3 732.9L82.4 729.9L82.5 726.9L82.6 723.9L82.8 720.9L82.9 717.9L83 714.9L83.1 711.9L83.2 708.9L83.4 705.9L83.5 702.9L83.6 699.8L83.7 696.8L83.8 693.8L83.9 690.8L84 687.8L84.1 684.8L84.2 681.8L84.2 678.8L84.3 675.8L84.4 672.8L84.5 669.8L84.6 666.8L84.6 663.8L84.7 660.8L84.7 657.8L84.8 654.8L84.9 651.8L84.9 648.8L85 645.8L85 642.8L85 639.8L85.1 636.8L85.1 633.8L85.1 630.8L85.2 627.8L85.2 624.8L85.2 621.8L85.2 618.8L85.2 615.8L85.1 618.8L85.1 621.8L85.1 624.8L85 627.9L85 630.9L85 633.9L84.9 636.9L84.9 639.9L84.9 642.9L84.9 646L84.9 649L84.9 652L84.9 655L84.9 658L85 661L85 664.1L85 667.1L85.1 670.1L85.1 673.1L85.1 676.1L85.2 679.1L85.2 682.1L85.3 685.2L85.3 688.2L85.4 691.2L85.5 694.2L85.5 697.2L85.6 700.2L85.7 703.3L85.8 706.3L85.8 709.3L85.9 712.3L86 715.3L86.1 718.3L86.2 721.3L86.3 724.4L86.4 727.4L86.5 730.4L86.6 733.4L86.8 736.4L86.9 739.4L87 742.5L87.1 745.5L87.2 748.5L87.4 751.5L87.5 754.5L87.6 757.5L87.8 760.6L87.9 763.6L88 766.6L88.2 769.6L88.3 772.6L88.5 775.6L88.6 778.6L88.8 781.7L88.9 784.7L89.1 787.7L89.2 790.7L89.4 793.7L89.6 796.7L89.7 799.8L89.9 802.8L90 805.8L90.2 808.8L90.4 811.8L90.5 814.8L90.7 817.8L90.9 820.9L91.1 823.9L91.2 826.9L91.4 829.9L91.6 832.9L91.8 835.9L91.9 839L92.1 842L92.3 845L92.5 848L92.7 851L92.8 854L93 857.1L93.2 860.1L93.4 863.1L93.6 866.1L93.7 869.1L93.9 872.1L94.1 875.1L94.3 878.2L94.5 881.2L94.7 884.2L94.8 887.2L95 890.2L95.2 893.2L95.4 896.3L95.6 899.3L95.7 902.3L95.9 905.3L96.1 908.3L96.3 911.3L96.4 914.4L96.6 917.4L96.8 920.4L97 923.4L97.1 926.4L97.3 929.4L97.5 932.4L97.7 935.5L97.8 938.5L98 941.5L98.1 944.5L98.3 947.5L98.5 950.5L98.6 953.6L98.8 956.6L98.9 959.6L99.1 962.6L99.3 965.6L99.4 968.6L99.6 971.6L99.7 974.7L99.8 977.7L100 980.7L100.1 983.7L100.3 986.7L100.4 989.7L100.5 992.8L100.7 995.8L100.8 998.8L100.9 1001.8L101 1004.8L101.2 1007.8L101.3 1010.9L101.4 1013.9L101.5 1016.9L101.6 1019.9" fill="none" stroke="#008000" stroke-width="2.5" stroke-linejoin="round" stroke-linecap="round"/>
<path d="M805.4 1013.2L809.6 1012.8L810.9 1009.8L812.2 1006.8L813.6 1003.8L815.1 1000.8L816.7 997.7L818.3 994.7L820 991.7L821.8 988.7L823.6 985.7L825.4 982.7L827.4 979.7L829.4 976.7L831.4 973.7L833.6 970.7L835.7 967.6L837.9 964.6L840.2 961.6L842.6 958.6L844.9 955.6L847.4 952.6L849.8 949.6L852.4 946.6L854.9 943.6L857.6 940.6L860.2 937.5L862.9 934.5L865.7 931.5L868.5 928.5L871.3 925.5L874.1 922.5L877 919.5L880 916.5L882.9 913.5L885.9 910.5L889 907.4L892 904.4L895.1 901.4L898.3 898.4L901.4 895.4L904.6 892.4L907.8 889.4L911.1 886.4L914.3 883.4L917.6 880.3L920.9 877.3L924.3 874.3L927.6 871.3L930.9 868.3L934.3 865.3L937.6 862.3L940.9 859.3L944.2 856.3L947.5 853.3L950.8 850.2L954 847.2L957.2 844.2L960.3 841.2L963.4 838.2L966.4 835.2L969.4 832.2L972.3 829.2L975.1 826.2L977.9 823.2L980.7 820.1L983.4 817.1L986 814.1L988.6 811.1L991.1 808.1L993.6 805.1L996 802.1L998.4 799.1L1000.8 796.1L1003.2 793.1L1005.5 790L1007.7 787L1010 784L1012.3 781L1014.5 778L1016.7 775L1018.9 772L1021 769L1023.2 766L1025.3 763L1027.5 759.9L1029.6 756.9L1031.6 753.9L1033.7 750.9L1035.7 747.9L1037.8 744.9L1039.8 741.9L1041.8 738.9L1043.7 735.9L1045.7 732.8L1047.6 729.8L1049.5 726.8L1051.4 723.8L1053.3 720.8L1055.2 717.8L1057 714.8L1058.8 711.8L1060.6 708.8L1062.4 705.8L1064.1 702.7L1065.9 699.7L1067.6 696.7L1069.3 693.7L1071 690.7L1072.6 687.7L1074.3 684.7L1075.9 681.7L1077.5 678.7L1079 675.7L1080.6 672.6L1082.2 669.6L1083.7 666.6L1085.2 663.6L1086.7 660.6L1088.2 657.6L1089.7 654.6L1091.2 651.6L1092.8 648.6L1094.3 645.6L1095.9 642.5L1097.5 639.5L1099.1 636.5L1100.8 633.5L1102.5 630.5L1102.5 650L1107.6 651L1108.2 654L1108.7 657L1109.3 660.1L1109.9 663.1L1110.5 666.1L1111.1 669.1L1111.7 672.1L1112.3 675.1L1112.9 678.2L1113.6 681.2L1114.2 684.2L1114.9 687.2L1115.6 690.2L1116.3 693.2L1117 696.3L1117.7 699.3L1118.5 702.3L1119.2 705.3L1120 708.3L1120.8 711.3L1121.7 714.4L1122.5 717.4L1123.4 720.4L1124.4 723.4L1125.3 726.4L1126.3 729.4L1127.3 732.5L1128.3 735.5L1129.4 738.5L1130.5 741.5L1131.6 744.5L1132.7 747.5L1133.9 750.6L1135.2 753.6L1136.5 756.6L1137.8 759.6L1139.1 762.6L1140.6 765.6L1142 768.7L1143.6 771.7L1145.1 774.7L1146.8 777.7L1148.5 780.7L1150.3 783.8L1152.1 786.8L1154 789.8L1156 792.8L1158.1 795.8L1160.2 798.8L1162.5 801.9L1164.8 804.9L1167.2 807.9L1169.7 810.9L1172.4 813.9L1175.1 816.9L1177.9 820L1180.8 823L1183.8 826L1187 829L1190.2 832L1193.6 835L1197.1 838.1L1200.7 841.1L1204.5 844.1L1208.3 847.1L1212.2 850.1L1216.2 853.1L1220.3 856.2L1224.4 859.2L1228.6 862.2L1232.8 865.2L1237 868.2L1241.2 871.2L1245.5 874.3L1249.7 877.3L1254 880.3L1258.2 883.3L1262.4 886.3L1266.5 889.3L1270.6 892.4L1274.7 895.4L1278.8 898.4L1282.8 901.4L1286.7 904.4L1290.7 907.5L1294.5 910.5L1298.3 913.5L1302.1 916.5L1305.7 919.5L1309.3 922.5L1312.9 925.6L1316.3 928.6L1319.7 931.6L1323 934.6L1326.3 937.6L1329.5 940.6L1332.7 943.7L1335.8 946.7L1338.9 949.7L1341.9 952.7L1345 955.7L1348 958.7L1351.1 961.8L1354.1 964.8L1357.2 967.8L1360.3 970.8L1363.4 973.8L1366.6 976.8L1369.8 979.9L1373.1 982.9L1376.4 985.9L1379.8 988.9L1383.3 991.9L1386.9 994.9L1390.6 998L1394.4 1001L1398.4 1004L1402.4 1007L1406.6 1010L1411 1013L1415.5 1016.1L1420.2 1019.1L1425.1 1022.1" fill="none" stroke="#000000" stroke-width="2.5" stroke-linejoin="round" stroke-linecap="round"/>
<path d="M805.4 1006.8L810.7 1005.7L811.4 1002.7L812.1 999.7L812.8 996.7L813.6 993.7L814.4 990.7L815.2 987.6L816.1 984.6L817 981.6L818 978.6L819 975.6L820 972.6L821 969.6L822.1 966.6L823.2 963.6L824.3 960.6L825.5 957.6L826.6 954.6L827.8 951.5L829.1 948.5L830.3 945.5L831.6 942.5L832.9 939.5L834.2 936.5L835.5 933.5L836.9 930.5L838.3 927.5L839.7 924.5L841.1 921.5L842.5 918.4L843.9 915.4L845.3 912.4L846.8 909.4L848.3 906.4L849.7 903.4L851.2 900.4L852.7 897.4L854.2 894.4L855.7 891.4L857.3 888.4L858.8 885.3L860.3 882.3L861.8 879.3L863.4 876.3L864.9 873.3L866.4 870.3L868 867.3L869.5 864.3L871 861.3L872.5 858.3L874.1 855.3L875.6 852.3L877.1 849.2L878.6 846.2L880.1 843.2L881.6 840.2L883.1 837.2L884.5 834.2L886 831.2L887.4 828.2L888.9 825.2L890.3 822.2L891.7 819.2L893.1 816.1L894.4 813.1L895.8 810.1L897.1 807.1L898.5 804.1L899.8 801.1L901.1 798.1L902.3 795.1L903.6 792.1L904.8 789.1L906.1 786.1L907.3 783L908.5 780L909.7 777L910.8 774L912 771L913.2 768L914.3 765L915.4 762L916.5 759L917.6 756L918.7 753L919.7 750L920.8 746.9L921.8 743.9L922.8 740.9L923.8 737.9L924.8 734.9L925.8 731.9L926.8 728.9L927.8 725.9L928.7 722.9L929.6 719.9L930.6 716.9L931.5 713.8L932.4 710.8L933.3 707.8L934.1 704.8L935 701.8L935.9 698.8L936.7 695.8L937.5 692.8L938.3 689.8L939.2 686.8L940 683.8L940.7 680.7L941.5 677.7L942.3 674.7L943.1 671.7L943.8 668.7L944.5 665.7L945.3 662.7L946 659.7L946.7 656.7L947.4 653.7L948.1 650.7L948.8 647.7L949.5 644.6L950.1 641.6L950.8 638.6L951.4 635.6L952.1 632.6L952.7 629.6L953.1 632.6L953.5 635.6L953.9 638.7L954.2 641.7L954.6 644.7L955 647.7L955.3 650.7L955.7 653.8L956 656.8L956.4 659.8L956.8 662.8L957.1 665.8L957.5 668.9L957.8 671.9L958.2 674.9L958.6 677.9L958.9 680.9L959.3 684L959.7 687L960.1 690L960.5 693L960.9 696L961.3 699.1L961.7 702.1L962.1 705.1L962.6 708.1L963 711.1L963.5 714.2L963.9 717.2L964.4 720.2L964.9 723.2L965.4 726.2L966 729.3L966.5 732.3L967.1 735.3L967.6 738.3L968.2 741.3L968.8 744.4L969.5 747.4L970.1 750.4L970.8 753.4L971.5 756.4L972.2 759.5L972.9 762.5L973.7 765.5L974.5 768.5L975.3 771.5L976.1 774.6L976.9 777.6L977.8 780.6L978.7 783.6L979.7 786.6L980.6 789.7L981.6 792.7L982.7 795.7L983.7 798.7L984.8 801.7L985.9 804.8L987.1 807.8L988.3 810.8L989.5 813.8L990.7 816.8L992 819.9L993.3 822.9L994.7 825.9L996.1 828.9L997.5 831.9L999 835L1000.5 838L1002.1 841L1003.7 844L1005.3 847L1007 850.1L1008.7 853.1L1010.5 856.1L1012.3 859.1L1014.1 862.1L1016 865.2L1018 868.2L1019.9 871.2L1021.9 874.2L1023.9 877.2L1025.9 880.3L1028 883.3L1030 886.3L1032 889.3L1034.1 892.3L1036.1 895.4L1038.1 898.4L1040.1 901.4L1042.1 904.4L1044 907.4L1045.9 910.5L1047.8 913.5L1049.7 916.5L1051.5 919.5L1053.4 922.5L1055.1 925.6L1056.9 928.6L1058.7 931.6L1060.4 934.6L1062 937.6L1063.7 940.7L1065.3 943.7L1066.9 946.7L1068.5 949.7L1070.1 952.7L1071.6 955.8L1073.1 958.8L1074.6 961.8L1076.1 964.8L1077.5 967.8L1079 970.9L1080.5 973.9L1081.9 976.9L1083.4 979.9L1084.9 982.9L1086.3 986L1087.8 989L1089.3 992L1090.8 995L1092.4 998L1094 1001.1L1095.5 1004.1L1097.2 1007.1L1098.8 1010.1L1100.5 1013.1L1102.2 1016.2L1104 1019.2L1105.8 1022.2" fill="none" stroke="#ff0000" stroke-width="2.5" stroke-linejoin="round" stroke-linecap="round"/>
<path d="M805.4 990.7L810.7 989.6L811.3 986.6L811.9 983.6L812.5 980.6L813.1 977.6L813.8 974.6L814.4 971.6L815 968.5L815.7 965.5L816.3 962.5L817 959.5L817.6 956.5L818.3 953.5L818.9 950.5L819.6 947.5L820.3 944.5L820.9 941.5L821.6 938.5L822.3 935.5L822.9 932.4L823.6 929.4L824.3 926.4L825 923.4L825.7 920.4L826.4 917.4L827 914.4L827.7 911.4L828.4 908.4L829.1 905.4L829.8 902.4L830.5 899.4L831.2 896.3L831.9 893.3L832.6 890.3L833.3 887.3L834 884.3L834.7 881.3L835.4 878.3L836.1 875.3L836.8 872.3L837.5 869.3L838.2 866.3L838.9 863.2L839.6 860.2L840.3 857.2L841 854.2L841.7 851.2L842.4 848.2L843.1 845.2L843.8 842.2L844.5 839.2L845.1 836.2L845.8 833.2L846.5 830.2L847.2 827.2L847.9 824.1L848.5 821.1L849.2 818.1L849.9 815.1L850.5 812.1L851.2 809.1L851.9 806.1L852.5 803.1L853.2 800.1L853.8 797.1L854.5 794.1L855.1 791L855.7 788L856.4 785L857 782L857.6 779L858.2 776L858.8 773L859.4 770L860 767L860.6 764L861.2 761L861.8 758L862.4 755L863 751.9L863.5 748.9L864.1 745.9L864.6 742.9L865.2 739.9L865.7 736.9L866.2 733.9L866.8 730.9L867.3 727.9L867.8 724.9L868.3 721.9L868.8 718.9L869.3 715.8L869.8 712.8L870.2 709.8L870.7 706.8L871.1 703.8L871.6 700.8L872 697.8L872.4 694.8L872.9 691.8L873.3 688.8L873.7 685.8L874.1 682.8L874.4 679.7L874.8 676.7L875.2 673.7L875.5 670.7L875.9 667.7L876.2 664.7L876.5 661.7L876.8 658.7L877.1 655.7L877.4 652.7L877.7 649.7L878 646.7L878.2 643.6L878.4 640.6L878.7 637.6L878.9 634.6L879.1 631.6L879.3 628.6L879.4 631.6L879.4 634.6L879.5 637.6L879.5 640.6L879.6 643.6L879.7 646.6L879.8 649.6L879.8 652.6L879.9 655.6L880 658.6L880.1 661.6L880.2 664.6L880.4 667.6L880.5 670.6L880.6 673.6L880.7 676.6L880.9 679.6L881 682.6L881.2 685.6L881.4 688.6L881.5 691.6L881.7 694.6L881.9 697.6L882.1 700.6L882.3 703.6L882.5 706.6L882.7 709.6L883 712.6L883.2 715.6L883.5 718.6L883.7 721.6L884 724.6L884.3 727.7L884.6 730.7L884.9 733.7L885.2 736.7L885.5 739.7L885.8 742.7L886.2 745.7L886.5 748.7L886.9 751.7L887.3 754.7L887.7 757.7L888.1 760.7L888.5 763.7L888.9 766.7L889.4 769.7L889.8 772.7L890.3 775.7L890.8 778.7L891.3 781.7L891.8 784.7L892.3 787.7L892.9 790.7L893.4 793.7L894 796.7L894.5 799.7L895.1 802.7L895.8 805.7L896.4 808.7L897 811.7L897.7 814.7L898.3 817.7L899 820.7L899.7 823.7L900.5 826.7L901.2 829.7L901.9 832.7L902.7 835.7L903.5 838.7L904.3 841.7L905.1 844.7L905.9 847.7L906.7 850.7L907.5 853.7L908.4 856.7L909.2 859.7L910.1 862.7L911 865.7L911.8 868.7L912.7 871.7L913.6 874.7L914.5 877.7L915.4 880.7L916.3 883.7L917.3 886.7L918.2 889.7L919.1 892.7L920 895.7L921 898.7L921.9 901.7L922.8 904.7L923.8 907.7L924.7 910.7L925.7 913.7L926.6 916.7L927.5 919.7L928.5 922.7L929.4 925.8L930.3 928.8L931.3 931.8L932.2 934.8L933.1 937.8L934 940.8L935 943.8L935.9 946.8L936.8 949.8L937.7 952.8L938.6 955.8L939.4 958.8L940.3 961.8L941.2 964.8L942 967.8L942.9 970.8L943.7 973.8L944.5 976.8L945.4 979.8L946.2 982.8L947 985.8L947.7 988.8L948.5 991.8L949.2 994.8L950 997.8L950.7 1000.8L951.4 1003.8L952.1 1006.8L952.8 1009.8L953.4 1012.8L954.1 1015.8L954.7 1018.8L955.3 1021.8" fill="none" stroke="#0000ff" stroke-width="2.5" stroke-linejoin="round" stroke-linecap="round"/>
<path d="M805.4 961.8L810.7 960.7L810.9 957.7L811.1 954.7L811.3 951.7L811.5 948.7L811.7 945.7L811.9 942.6L812.1 939.6L812.3 936.6L812.6 933.6L812.8 930.6L813 927.6L813.3 924.6L813.5 921.6L813.8 918.6L814 915.6L814.2 912.6L814.5 909.5L814.8 906.5L815 903.5L815.3 900.5L815.5 897.5L815.8 894.5L816.1 891.5L816.3 888.5L816.6 885.5L816.9 882.5L817.1 879.5L817.4 876.5L817.7 873.4L818 870.4L818.3 867.4L818.5 864.4L818.8 861.4L819.1 858.4L819.4 855.4L819.7 852.4L820 849.4L820.3 846.4L820.5 843.4L820.8 840.3L821.1 837.3L821.4 834.3L821.7 831.3L822 828.3L822.3 825.3L822.6 822.3L822.8 819.3L823.1 816.3L823.4 813.3L823.7 810.3L824 807.2L824.3 804.2L824.6 801.2L824.8 798.2L825.1 795.2L825.4 792.2L825.7 789.2L826 786.2L826.2 783.2L826.5 780.2L826.8 777.2L827 774.1L827.3 771.1L827.6 768.1L827.8 765.1L828.1 762.1L828.3 759.1L828.6 756.1L828.8 753.1L829.1 750.1L829.3 747.1L829.6 744.1L829.8 741L830 738L830.3 735L830.5 732L830.7 729L830.9 726L831.1 723L831.4 720L831.6 717L831.8 714L832 711L832.1 708L832.3 704.9L832.5 701.9L832.7 698.9L832.9 695.9L833 692.9L833.2 689.9L833.4 686.9L833.5 683.9L833.7 680.9L833.8 677.9L833.9 674.9L834.1 671.8L834.2 668.8L834.3 665.8L834.4 662.8L834.5 659.8L834.6 656.8L834.7 653.8L834.8 650.8L834.8 647.8L834.9 644.8L835 641.8L835 638.7L835.1 635.7L835.1 632.7L835.2 629.7L835.2 626.7L835.2 623.7L835.2 626.7L835.2 629.7L835.2 632.7L835.2 635.8L835.2 638.8L835.2 641.8L835.2 644.8L835.2 647.8L835.3 650.8L835.3 653.9L835.3 656.9L835.4 659.9L835.4 662.9L835.5 665.9L835.5 668.9L835.6 672L835.7 675L835.7 678L835.8 681L835.9 684L836 687L836.1 690.1L836.2 693.1L836.3 696.1L836.4 699.1L836.5 702.1L836.7 705.1L836.8 708.1L836.9 711.2L837 714.2L837.2 717.2L837.3 720.2L837.5 723.2L837.6 726.2L837.8 729.3L837.9 732.3L838.1 735.3L838.3 738.3L838.4 741.3L838.6 744.3L838.8 747.4L839 750.4L839.2 753.4L839.4 756.4L839.6 759.4L839.8 762.4L840 765.4L840.2 768.5L840.4 771.5L840.6 774.5L840.8 777.5L841 780.5L841.3 783.5L841.5 786.6L841.7 789.6L841.9 792.6L842.2 795.6L842.4 798.6L842.7 801.6L842.9 804.7L843.2 807.7L843.4 810.7L843.7 813.7L843.9 816.7L844.2 819.7L844.4 822.8L844.7 825.8L845 828.8L845.3 831.8L845.5 834.8L845.8 837.8L846.1 840.8L846.4 843.9L846.6 846.9L846.9 849.9L847.2 852.9L847.5 855.9L847.8 858.9L848.1 862L848.4 865L848.7 868L849 871L849.3 874L849.6 877L849.9 880.1L850.2 883.1L850.5 886.1L850.8 889.1L851.1 892.1L851.5 895.1L851.8 898.1L852.1 901.2L852.4 904.2L852.7 907.2L853.1 910.2L853.4 913.2L853.7 916.2L854 919.3L854.4 922.3L854.7 925.3L855 928.3L855.3 931.3L855.7 934.3L856 937.4L856.3 940.4L856.7 943.4L857 946.4L857.3 949.4L857.7 952.4L858 955.5L858.3 958.5L858.7 961.5L859 964.5L859.3 967.5L859.7 970.5L860 973.5L860.3 976.6L860.7 979.6L861 982.6L861.4 985.6L861.7 988.6L862 991.6L862.4 994.7L862.7 997.7L863.1 1000.7L863.4 1003.7L863.7 1006.7L864.1 1009.7L864.4 1012.8L864.7 1015.8L865.1 1018.8L865.4 1021.8" fill="none" stroke="#ff00ff" stroke-width="2.5" stroke-linejoin="round" stroke-linecap="round"/>
<path d="M805.4 898.6L810.7 897.5L810.8 894.5L810.9 891.5L811 888.4L811.2 885.4L811.3 882.4L811.4 879.4L811.5 876.4L811.6 873.3L811.7 870.3L811.9 867.3L812 864.3L812.1 861.3L812.2 858.2L812.4 855.2L812.5 852.2L812.6 849.2L812.7 846.2L812.9 843.1L813 840.1L813.1 837.1L813.2 834.1L813.4 831.1L813.5 828L813.6 825L813.7 822L813.9 819L814 816L814.1 812.9L814.2 809.9L814.4 806.9L814.5 803.9L814.6 800.9L814.7 797.8L814.9 794.8L815 791.8L815.1 788.8L815.2 785.8L815.3 782.7L815.5 779.7L815.6 776.7L815.7 773.7L815.8 770.7L815.9 767.6L816.1 764.6L816.2 761.6L816.3 758.6L816.4 755.6L816.5 752.5L816.6 749.5L816.7 746.5L816.8 743.5L817 740.5L817.1 737.4L817.2 734.4L817.3 731.4L817.4 728.4L817.5 725.4L817.6 722.3L817.7 719.3L817.8 716.3L817.9 713.3L817.9 710.3L818 707.2L818.1 704.2L818.2 701.2L818.3 698.2L818.4 695.2L818.5 692.1L818.5 689.1L818.6 686.1L818.7 683.1L818.8 680.1L818.8 677L818.9 674L819 671L819 668L819.1 665L819.1 661.9L819.2 658.9L819.2 655.9L819.3 652.9L819.3 649.9L819.4 646.8L819.4 643.8L819.5 640.8L819.5 637.8L819.5 634.8L819.6 631.7L819.6 628.7L819.6 625.7L819.6 628.7L819.5 631.7L819.5 634.7L819.4 637.7L819.4 640.7L819.4 643.7L819.3 646.7L819.3 649.7L819.3 652.7L819.3 655.7L819.3 658.7L819.3 661.7L819.3 664.7L819.3 667.7L819.3 670.7L819.3 673.7L819.3 676.7L819.3 679.7L819.3 682.7L819.3 685.7L819.3 688.7L819.4 691.7L819.4 694.7L819.4 697.7L819.5 700.7L819.5 703.7L819.5 706.7L819.6 709.7L819.6 712.7L819.7 715.7L819.7 718.7L819.8 721.7L819.8 724.7L819.9 727.7L819.9 730.7L820 733.7L820.1 736.7L820.1 739.7L820.2 742.7L820.3 745.7L820.4 748.7L820.4 751.7L820.5 754.7L820.6 757.7L820.7 760.7L820.8 763.7L820.9 766.7L821 769.7L821.1 772.7L821.2 775.7L821.3 778.7L821.4 781.7L821.5 784.7L821.6 787.7L821.7 790.7L821.8 793.7L821.9 796.7L822 799.7L822.1 802.7L822.2 805.7L822.4 808.7L822.5 811.7L822.6 814.7L822.7 817.7L822.9 820.7L823 823.8L823.1 826.8L823.2 829.8L823.4 832.8L823.5 835.8L823.6 838.8L823.8 841.8L823.9 844.8L824 847.8L824.2 850.8L824.3 853.8L824.5 856.8L824.6 859.8L824.8 862.8L824.9 865.8L825.1 868.8L825.2 871.8L825.3 874.8L825.5 877.8L825.6 880.8L825.8 883.8L826 886.8L826.1 889.8L826.3 892.8L826.4 895.8L826.6 898.8L826.7 901.8L826.9 904.8L827 907.8L827.2 910.8L827.4 913.8L827.5 916.8L827.7 919.8L827.8 922.8L828 925.8L828.2 928.8L828.3 931.8L828.5 934.8L828.7 937.8L828.8 940.8L829 943.8L829.1 946.8L829.3 949.8L829.5 952.8L829.6 955.8L829.8 958.8L830 961.8L830.1 964.8L830.3 967.8L830.5 970.8L830.6 973.8L830.8 976.8L830.9 979.8L831.1 982.8L831.3 985.8L831.4 988.8L831.6 991.8L831.8 994.8L831.9 997.8L832.1 1000.8L832.2 1003.8L832.4 1006.8L832.6 1009.8L832.7 1012.8L832.9 1015.8L833 1018.8L833.2 1021.8" fill="none" stroke="#008000" stroke-width="2.5" stroke-linejoin="round" stroke-linecap="round"/>
<path d="M67.90 480.60H732.40" stroke="#555" stroke-width="2.8" fill="none"/>
<path d="M67.90 480.60V11.00H732.40V480.60" fill="none" stroke="#000" stroke-width="2.8" stroke-linejoin="round"/>
<rect x="807.00" y="11.50" width="664.40" height="469.20" fill="none" stroke="#000" stroke-width="2.8" stroke-linejoin="round"/>
<rect x="67.90" y="551.00" width="664.40" height="469.50" fill="none" stroke="#000" stroke-width="2.8" stroke-linejoin="round"/>
<rect x="805.20" y="552.60" width="664.20" height="470.20" fill="none" stroke="#000" stroke-width="2.8" stroke-linejoin="round"/>
<path d="M122.90 480.60V472.10M233.76 480.60V472.10M344.62 480.60V472.10M455.48 480.60V472.10M566.34 480.60V472.10M677.20 480.60V472.10M178.33 480.60V476.60M289.19 480.60V476.60M400.05 480.60V476.60M510.91 480.60V476.60M621.77 480.60V476.60" stroke="#000" stroke-width="2.6" fill="none"/>
<text x="122.90" y="506.10" text-anchor="middle">0.0</text>
<text x="233.76" y="506.10" text-anchor="middle">0.2</text>
<text x="344.62" y="506.10" text-anchor="middle">0.4</text>
<text x="455.48" y="506.10" text-anchor="middle">0.6</text>
<text x="566.34" y="506.10" text-anchor="middle">0.8</text>
<text x="677.20" y="506.10" text-anchor="middle">1.0</text>
<path d="M67.90 480.60H76.40M67.90 402.33H76.40M67.90 324.07H76.40M67.90 245.80H76.40M67.90 167.53H76.40M67.90 89.27H76.40M67.90 11.00H76.40M67.90 441.47H71.90M67.90 363.20H71.90M67.90 284.93H71.90M67.90 206.67H71.90M67.90 128.40H71.90M67.90 50.13H71.90" stroke="#000" stroke-width="2.6" fill="none"/>
<text x="62.90" y="487.60" text-anchor="end">-15</text>
<text x="62.90" y="409.33" text-anchor="end">-10</text>
<text x="62.90" y="331.07" text-anchor="end">-5</text>
<text x="62.90" y="252.80" text-anchor="end">0</text>
<text x="62.90" y="174.53" text-anchor="end">5</text>
<text x="62.90" y="96.27" text-anchor="end">10</text>
<text x="62.90" y="18.00" text-anchor="end">15</text>
<path d="M861.60 480.70V472.20M972.38 480.70V472.20M1083.16 480.70V472.20M1193.94 480.70V472.20M1304.72 480.70V472.20M1415.50 480.70V472.20M916.99 480.70V476.70M1027.77 480.70V476.70M1138.55 480.70V476.70M1249.33 480.70V476.70M1360.11 480.70V476.70" stroke="#000" stroke-width="2.6" fill="none"/>
<text x="861.60" y="506.20" text-anchor="middle">-1.0</text>
<text x="972.38" y="506.20" text-anchor="middle">-0.8</text>
<text x="1083.16" y="506.20" text-anchor="middle">-0.6</text>
<text x="1193.94" y="506.20" text-anchor="middle">-0.4</text>
<text x="1304.72" y="506.20" text-anchor="middle">-0.2</text>
<text x="1415.50" y="506.20" text-anchor="middle">0.0</text>
<path d="M807.00 480.70H815.50M807.00 427.29H815.50M807.00 373.88H815.50M807.00 320.46H815.50M807.00 267.05H815.50M807.00 213.64H815.50M807.00 160.22H815.50M807.00 106.81H815.50M807.00 53.40H815.50M807.00 453.99H811.00M807.00 400.58H811.00M807.00 347.17H811.00M807.00 293.76H811.00M807.00 240.34H811.00M807.00 186.93H811.00M807.00 133.52H811.00M807.00 80.11H811.00M807.00 26.69H811.00" stroke="#000" stroke-width="2.6" fill="none"/>
<text x="803.60" y="488.70" text-anchor="end">-25</text>
<text x="803.60" y="435.29" text-anchor="end">-20</text>
<text x="803.60" y="381.88" text-anchor="end">-15</text>
<text x="803.60" y="328.46" text-anchor="end">-10</text>
<text x="803.60" y="275.05" text-anchor="end">-5</text>
<text x="803.60" y="221.64" text-anchor="end">0</text>
<text x="803.60" y="168.22" text-anchor="end">5</text>
<text x="803.60" y="114.81" text-anchor="end">10</text>
<text x="803.60" y="61.40" text-anchor="end">15</text>
<path d="M68.00 1020.50V1012.00M188.86 1020.50V1012.00M309.72 1020.50V1012.00M430.58 1020.50V1012.00M551.44 1020.50V1012.00M672.30 1020.50V1012.00M128.43 1020.50V1016.50M249.29 1020.50V1016.50M370.15 1020.50V1016.50M491.01 1020.50V1016.50M611.87 1020.50V1016.50" stroke="#000" stroke-width="2.6" fill="none"/>
<text x="68.00" y="1045.50" text-anchor="middle">0</text>
<text x="188.86" y="1045.50" text-anchor="middle">200</text>
<text x="309.72" y="1045.50" text-anchor="middle">400</text>
<text x="430.58" y="1045.50" text-anchor="middle">600</text>
<text x="551.44" y="1045.50" text-anchor="middle">800</text>
<text x="672.30" y="1045.50" text-anchor="middle">1000</text>
<path d="M67.90 1020.50H76.40M67.90 942.14H76.40M67.90 863.78H76.40M67.90 785.42H76.40M67.90 707.06H76.40M67.90 628.70H76.40M67.90 550.34H76.40M67.90 981.32H71.90M67.90 902.96H71.90M67.90 824.60H71.90M67.90 746.24H71.90M67.90 667.88H71.90M67.90 589.52H71.90" stroke="#000" stroke-width="2.6" fill="none"/>
<text x="64.90" y="1028.10" text-anchor="end">-1.0</text>
<text x="64.90" y="949.74" text-anchor="end">-0.8</text>
<text x="64.90" y="871.38" text-anchor="end">-0.6</text>
<text x="64.90" y="793.02" text-anchor="end">-0.4</text>
<text x="64.90" y="714.66" text-anchor="end">-0.2</text>
<text x="64.90" y="636.30" text-anchor="end">0.0</text>
<text x="64.90" y="557.94" text-anchor="end">0.2</text>
<path d="M805.20 1022.80V1014.30M915.80 1022.80V1014.30M1026.40 1022.80V1014.30M1137.00 1022.80V1014.30M1247.60 1022.80V1014.30M1358.20 1022.80V1014.30M1468.80 1022.80V1014.30M860.50 1022.80V1018.80M971.10 1022.80V1018.80M1081.70 1022.80V1018.80M1192.30 1022.80V1018.80M1302.90 1022.80V1018.80M1413.50 1022.80V1018.80" stroke="#000" stroke-width="2.6" fill="none"/>
<text x="805.20" y="1047.60" text-anchor="middle">0</text>
<text x="915.80" y="1047.60" text-anchor="middle">200</text>
<text x="1026.40" y="1047.60" text-anchor="middle">400</text>
<text x="1137.00" y="1047.60" text-anchor="middle">600</text>
<text x="1247.60" y="1047.60" text-anchor="middle">800</text>
<text x="1358.20" y="1047.60" text-anchor="middle">1000</text>
<text x="1468.80" y="1047.60" text-anchor="middle">1200</text>
<path d="M805.20 1022.80H813.70M805.20 944.42H813.70M805.20 866.04H813.70M805.20 787.66H813.70M805.20 709.28H813.70M805.20 630.90H813.70M805.20 552.52H813.70M805.20 983.61H809.20M805.20 905.23H809.20M805.20 826.85H809.20M805.20 748.47H809.20M805.20 670.09H809.20M805.20 591.71H809.20" stroke="#000" stroke-width="2.6" fill="none"/>
<text x="802.20" y="1030.40" text-anchor="end">0.0</text>
<text x="802.20" y="952.02" text-anchor="end">0.2</text>
<text x="802.20" y="873.64" text-anchor="end">0.4</text>
<text x="802.20" y="795.26" text-anchor="end">0.6</text>
<text x="802.20" y="716.88" text-anchor="end">0.8</text>
<text x="802.20" y="638.50" text-anchor="end">1.0</text>
<text x="802.20" y="560.12" text-anchor="end">1.2</text>
<text x="400.3" y="530" font-size="26.5" text-anchor="middle">Potential / V <tspan font-style="italic">vs.</tspan> SCE</text>
<text x="1138" y="530" font-size="26.5" text-anchor="middle">Potential / V <tspan font-style="italic">vs.</tspan> SCE</text>
<text x="400" y="1070.3" font-size="26.5" text-anchor="middle">Time / s</text>
<text x="1137" y="1071.8" font-size="26.5" text-anchor="middle">Time / s</text>
<text transform="translate(33.2,235.8) rotate(-90)" font-size="26.5" text-anchor="middle">Current / 10<tspan font-size="16" dy="-12.8">-3</tspan><tspan dy="12.8"> A</tspan></text>
<text transform="translate(769.3,237.5) rotate(-90)" font-size="26.5" text-anchor="middle">Current / 10<tspan font-size="16" dy="-12.8">-3</tspan><tspan dy="12.8"> A</tspan></text>
<text transform="translate(21.5,772.8) rotate(-90)" font-size="26.5" text-anchor="middle">Potential / V <tspan font-style="italic">vs.</tspan> SCE</text>
<text transform="translate(767.0,774.2) rotate(-90)" font-size="26.5" text-anchor="middle">Potential / V <tspan font-style="italic">vs.</tspan> SCE</text>
<text x="83" y="60.5" font-size="49" letter-spacing="1.2" stroke="#fff" stroke-width="0.9">(a)</text>
<text x="822" y="60.8" font-size="49" letter-spacing="1.2" stroke="#fff" stroke-width="0.9">(b)</text>
<text x="83" y="599" font-size="49" letter-spacing="1.2" stroke="#fff" stroke-width="0.9">(c)</text>
<text x="820.5" y="600.8" font-size="49" letter-spacing="1.2" stroke="#fff" stroke-width="0.9">(d)</text>
<path d="M532.9 296.2H589.5" stroke="#000000" stroke-width="3.0" stroke-linecap="round"/>
<text x="598.5" y="304.5" font-size="25" letter-spacing="0.35">5 mV·s<tspan font-size="17" dy="-11">-1</tspan></text>
<path d="M532.9 332.4H589.5" stroke="#ff0000" stroke-width="3.0" stroke-linecap="round"/>
<text x="598.5" y="340.7" font-size="25" letter-spacing="0.35">10 mV·s<tspan font-size="17" dy="-11">-1</tspan></text>
<path d="M532.9 369.7H589.5" stroke="#0000ff" stroke-width="3.0" stroke-linecap="round"/>
<text x="598.5" y="378.0" font-size="25" letter-spacing="0.35">20 mV·s<tspan font-size="17" dy="-11">-1</tspan></text>
<path d="M532.9 406.0H589.5" stroke="#ff00ff" stroke-width="3.0" stroke-linecap="round"/>
<text x="598.5" y="414.3" font-size="25" letter-spacing="0.35">50 mV·s<tspan font-size="17" dy="-11">-1</tspan></text>
<path d="M532.9 442.2H589.5" stroke="#008000" stroke-width="3.0" stroke-linecap="round"/>
<text x="598.5" y="450.5" font-size="25" letter-spacing="0.35">100 mV·s<tspan font-size="17" dy="-11">-1</tspan></text>
<path d="M1091.6 380.4H1150.2" stroke="#000000" stroke-width="3.0" stroke-linecap="round"/>
<text x="1157.5" y="388.7" font-size="25" letter-spacing="0.35">5 mV·s<tspan font-size="17" dy="-11">-1</tspan></text>
<path d="M1091.6 417.3H1150.2" stroke="#ff0000" stroke-width="3.0" stroke-linecap="round"/>
<text x="1157.5" y="425.6" font-size="25" letter-spacing="0.35">10 mV·s<tspan font-size="17" dy="-11">-1</tspan></text>
<path d="M1091.6 454.4H1150.2" stroke="#0000ff" stroke-width="3.0" stroke-linecap="round"/>
<text x="1157.5" y="462.7" font-size="25" letter-spacing="0.35">20 mV·s<tspan font-size="17" dy="-11">-1</tspan></text>
<path d="M1277.8 380.4H1336.4" stroke="#ff00ff" stroke-width="3.0" stroke-linecap="round"/>
<text x="1344.5" y="388.7" font-size="25" letter-spacing="0.35">50 mV·s<tspan font-size="17" dy="-11">-1</tspan></text>
<path d="M1277.8 417.3H1336.4" stroke="#008000" stroke-width="3.0" stroke-linecap="round"/>
<text x="1344.5" y="425.6" font-size="25" letter-spacing="0.35">100 mV·s<tspan font-size="17" dy="-11">-1</tspan></text>
<path d="M523.5 671.3H580.0" stroke="#000000" stroke-width="3.0" stroke-linecap="round"/>
<text x="589.5" y="679.5999999999999" font-size="25" letter-spacing="0.35">0.5 A·g<tspan font-size="17" dy="-11">-1</tspan></text>
<path d="M523.5 707.5H580.0" stroke="#ff0000" stroke-width="3.0" stroke-linecap="round"/>
<text x="589.5" y="715.8" font-size="25" letter-spacing="0.35">1 A·g<tspan font-size="17" dy="-11">-1</tspan></text>
<path d="M523.5 744.0H580.0" stroke="#0000ff" stroke-width="3.0" stroke-linecap="round"/>
<text x="589.5" y="752.3" font-size="25" letter-spacing="0.35">2 A·g<tspan font-size="17" dy="-11">-1</tspan></text>
<path d="M523.5 780.7H580.0" stroke="#ff00ff" stroke-width="3.0" stroke-linecap="round"/>
<text x="589.5" y="789.0" font-size="25" letter-spacing="0.35">5 A·g<tspan font-size="17" dy="-11">-1-1</tspan></text>
<path d="M523.5 817.1H580.0" stroke="#008000" stroke-width="3.0" stroke-linecap="round"/>
<text x="589.5" y="825.4" font-size="25" letter-spacing="0.35">10 A·g<tspan font-size="17" dy="-11">-1</tspan></text>
<path d="M1260.0 673.2H1316.5" stroke="#000000" stroke-width="3.0" stroke-linecap="round"/>
<text x="1326.0" y="681.5" font-size="25" letter-spacing="0.35">0.5 A·g<tspan font-size="17" dy="-11">-1</tspan></text>
<path d="M1260.0 709.5H1316.5" stroke="#ff0000" stroke-width="3.0" stroke-linecap="round"/>
<text x="1326.0" y="717.8" font-size="25" letter-spacing="0.35">1 A·g<tspan font-size="17" dy="-11">-1</tspan></text>
<path d="M1260.0 746.2H1316.5" stroke="#0000ff" stroke-width="3.0" stroke-linecap="round"/>
<text x="1326.0" y="754.5" font-size="25" letter-spacing="0.35">2 A·g<tspan font-size="17" dy="-11">-1</tspan></text>
<path d="M1260.0 783.0H1316.5" stroke="#ff00ff" stroke-width="3.0" stroke-linecap="round"/>
<text x="1326.0" y="791.3" font-size="25" letter-spacing="0.35">5 A·g<tspan font-size="17" dy="-11">-1</tspan></text>
<path d="M1260.0 819.5H1316.5" stroke="#008000" stroke-width="3.0" stroke-linecap="round"/>
<text x="1326.0" y="827.8" font-size="25" letter-spacing="0.35">10 A·g<tspan font-size="17" dy="-11">-1</tspan></text>
</svg></body></html>
